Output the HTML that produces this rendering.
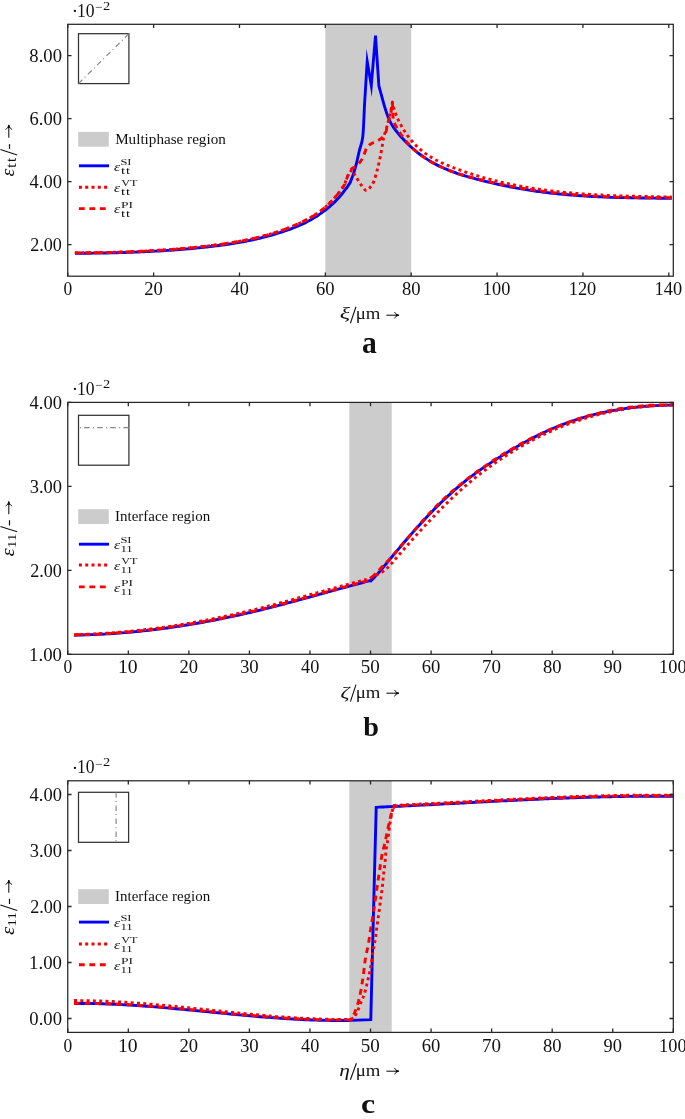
<!DOCTYPE html>
<html><head><meta charset="utf-8"><style>
html,body{margin:0;padding:0;background:#fff;}
svg{display:block;font-family:"Liberation Serif",serif;will-change:transform;}
text{fill:#111;}
</style></head><body>
<svg width="685" height="1119" viewBox="0 0 685 1119">
<rect width="685" height="1119" fill="#fff"/>
<rect x="325.34" y="24.3" width="85.86" height="251.9" fill="#cccccc"/>
<rect x="349.33" y="402.4" width="42.39" height="251.9" fill="#cccccc"/>
<rect x="349.33" y="780.8" width="42.39" height="251.6" fill="#cccccc"/>
<defs><clipPath id="ca"><rect x="67.75" y="24.3" width="605.55" height="251.9"/></clipPath><clipPath id="cb"><rect x="67.75" y="402.4" width="605.55" height="251.9"/></clipPath><clipPath id="cc"><rect x="67.75" y="780.8" width="605.55" height="251.6"/></clipPath></defs>
<path d="M74.9,253.3C75.4,253.29 76.9,253.26 77.9,253.25C78.9,253.24 79.9,253.25 80.9,253.24C81.9,253.24 82.9,253.24 83.9,253.23C84.9,253.23 85.9,253.22 86.9,253.21C87.9,253.21 88.9,253.2 89.9,253.19C90.9,253.18 91.9,253.17 92.9,253.16C93.9,253.15 94.9,253.14 95.9,253.13C96.9,253.11 97.9,253.1 98.9,253.09C99.9,253.07 100.9,253.06 101.9,253.04C102.9,253.03 103.9,253.01 104.9,252.99C105.9,252.97 106.9,252.96 107.9,252.94C108.9,252.92 109.9,252.9 110.9,252.87C111.9,252.85 112.9,252.83 113.9,252.81C114.9,252.78 115.9,252.76 116.9,252.73C117.9,252.71 118.9,252.68 119.9,252.65C120.9,252.62 121.9,252.59 122.9,252.56C123.9,252.53 124.9,252.5 125.9,252.47C126.9,252.44 127.9,252.4 128.9,252.37C129.9,252.34 130.9,252.3 131.9,252.26C132.9,252.23 133.9,252.19 134.9,252.15C135.9,252.11 136.9,252.07 137.9,252.03C138.9,251.99 139.9,251.94 140.9,251.9C141.9,251.85 142.9,251.81 143.9,251.76C144.9,251.72 145.9,251.67 146.9,251.62C147.9,251.57 148.9,251.52 149.9,251.47C150.9,251.42 151.9,251.36 152.9,251.31C153.9,251.26 154.9,251.2 155.9,251.14C156.9,251.09 157.9,251.03 158.9,250.97C159.9,250.91 160.9,250.85 161.9,250.79C162.9,250.72 163.9,250.66 164.9,250.59C165.9,250.53 166.9,250.46 167.9,250.39C168.9,250.33 169.9,250.26 170.9,250.19C171.9,250.11 172.9,250.04 173.9,249.97C174.9,249.89 175.9,249.82 176.9,249.74C177.9,249.67 178.9,249.59 179.9,249.51C180.9,249.43 181.9,249.35 182.9,249.26C183.9,249.18 184.9,249.1 185.9,249.01C186.9,248.92 187.9,248.84 188.9,248.75C189.9,248.66 190.9,248.57 191.9,248.48C192.9,248.38 193.9,248.29 194.9,248.19C195.9,248.1 196.9,248 197.9,247.9C198.9,247.8 199.9,247.7 200.9,247.6C201.9,247.5 202.9,247.4 203.9,247.29C204.9,247.18 205.9,247.08 206.9,246.97C207.9,246.86 208.9,246.74 209.9,246.63C210.9,246.52 211.9,246.4 212.9,246.28C213.9,246.16 214.9,246.04 215.9,245.92C216.9,245.79 217.9,245.67 218.9,245.54C219.9,245.41 220.9,245.28 221.9,245.14C222.9,245.01 223.9,244.87 224.9,244.73C225.9,244.58 226.9,244.44 227.9,244.29C228.9,244.14 229.9,243.99 230.9,243.84C231.9,243.68 232.9,243.53 233.9,243.36C234.9,243.2 235.9,243.04 236.9,242.87C237.9,242.7 238.9,242.52 239.9,242.35C240.9,242.17 241.9,241.99 242.9,241.8C243.9,241.62 244.9,241.43 245.9,241.23C246.9,241.04 247.9,240.84 248.9,240.63C249.9,240.43 250.9,240.22 251.9,240.01C252.9,239.8 253.9,239.58 254.9,239.36C255.9,239.13 256.9,238.9 257.9,238.67C258.9,238.44 259.9,238.2 260.9,237.96C261.9,237.71 262.9,237.46 263.9,237.21C264.9,236.96 265.9,236.7 266.9,236.43C267.9,236.16 268.9,235.89 269.9,235.62C270.9,235.34 271.9,235.06 272.9,234.77C273.9,234.48 274.9,234.18 275.9,233.88C276.9,233.58 277.9,233.27 278.9,232.96C279.9,232.64 280.9,232.32 281.9,232C282.9,231.67 283.9,231.34 284.9,230.99C285.9,230.65 286.9,230.31 287.9,229.95C288.9,229.6 289.9,229.23 290.9,228.86C291.9,228.49 292.9,228.1 293.9,227.71C294.9,227.32 295.9,226.91 296.9,226.49C297.9,226.08 298.9,225.65 299.9,225.21C300.9,224.76 301.9,224.31 302.9,223.83C303.9,223.36 304.9,222.88 305.9,222.37C306.9,221.87 307.9,221.35 308.9,220.81C309.9,220.27 310.9,219.72 311.9,219.14C312.9,218.57 313.9,217.97 314.9,217.36C315.9,216.74 316.9,216.11 317.9,215.45C318.9,214.79 319.9,214.11 320.9,213.41C321.9,212.7 322.9,211.98 323.9,211.22C324.9,210.47 325.9,209.7 326.9,208.89C327.9,208.08 328.9,207.25 329.9,206.38C330.9,205.51 331.9,204.61 332.9,203.67C333.9,202.72 334.9,201.75 335.9,200.72C336.9,199.7 337.9,198.64 338.9,197.52C339.9,196.41 340.9,195.25 341.9,194.04C342.9,192.82 343.9,191.56 344.9,190.24C345.9,188.91 347.03,187.35 347.9,186.09C348.77,184.84 349.73,183.27 350.1,182.7C350.68,181.15 352.52,176.72 353.6,173.4C354.68,170.08 355.62,166.7 356.6,162.8C357.58,158.9 358.47,154.35 359.5,150C360.53,145.65 361.97,144.2 362.8,136.7C363.63,129.2 364.22,110.28 364.5,105L367.2,61.3L371.3,85.5L375.5,35.6L378.9,86C379.4,87.82 380.9,93.29 381.9,96.91C382.9,100.53 383.9,104.42 384.9,107.7C385.9,110.98 386.9,114.01 387.9,116.58C388.9,119.15 389.9,121.22 390.9,123.12C391.9,125.01 392.9,126.5 393.9,127.97C394.9,129.43 395.9,130.63 396.9,131.88C397.9,133.13 398.9,134.31 399.9,135.47C400.9,136.63 401.9,137.75 402.9,138.84C403.9,139.93 404.9,140.99 405.9,142.01C406.9,143.03 407.9,144.02 408.9,144.97C409.9,145.93 410.9,146.85 411.9,147.75C412.9,148.64 413.9,149.51 414.9,150.35C415.9,151.18 416.9,151.99 417.9,152.78C418.9,153.56 419.9,154.31 420.9,155.04C421.9,155.78 422.9,156.48 423.9,157.16C424.9,157.85 425.9,158.51 426.9,159.14C427.9,159.78 428.9,160.4 429.9,160.99C430.9,161.59 431.9,162.17 432.9,162.72C433.9,163.28 434.9,163.82 435.9,164.34C436.9,164.87 437.9,165.37 438.9,165.86C439.9,166.35 440.9,166.83 441.9,167.29C442.9,167.75 443.9,168.2 444.9,168.63C445.9,169.07 446.9,169.49 447.9,169.9C448.9,170.31 449.9,170.71 450.9,171.09C451.9,171.48 452.9,171.85 453.9,172.22C454.9,172.58 455.9,172.94 456.9,173.28C457.9,173.63 458.9,173.96 459.9,174.29C460.9,174.62 461.9,174.94 462.9,175.25C463.9,175.56 464.9,175.86 465.9,176.16C466.9,176.46 467.9,176.75 468.9,177.03C469.9,177.32 470.9,177.6 471.9,177.87C472.9,178.15 473.9,178.42 474.9,178.69C475.9,178.95 476.9,179.22 477.9,179.48C478.9,179.74 479.9,179.99 480.9,180.25C481.9,180.5 482.9,180.75 483.9,181C484.9,181.25 485.9,181.49 486.9,181.74C487.9,181.98 488.9,182.22 489.9,182.45C490.9,182.69 491.9,182.92 492.9,183.15C493.9,183.38 494.9,183.61 495.9,183.84C496.9,184.06 497.9,184.28 498.9,184.5C499.9,184.72 500.9,184.93 501.9,185.15C502.9,185.36 503.9,185.57 504.9,185.77C505.9,185.98 506.9,186.18 507.9,186.38C508.9,186.58 509.9,186.78 510.9,186.97C511.9,187.17 512.9,187.36 513.9,187.54C514.9,187.73 515.9,187.92 516.9,188.1C517.9,188.28 518.9,188.46 519.9,188.63C520.9,188.81 521.9,188.98 522.9,189.15C523.9,189.32 524.9,189.48 525.9,189.64C526.9,189.81 527.9,189.97 528.9,190.12C529.9,190.28 530.9,190.43 531.9,190.58C532.9,190.73 533.9,190.88 534.9,191.02C535.9,191.17 536.9,191.31 537.9,191.45C538.9,191.58 539.9,191.72 540.9,191.85C541.9,191.98 542.9,192.11 543.9,192.24C544.9,192.37 545.9,192.49 546.9,192.61C547.9,192.73 548.9,192.85 549.9,192.97C550.9,193.08 551.9,193.19 552.9,193.3C553.9,193.41 554.9,193.52 555.9,193.63C556.9,193.73 557.9,193.83 558.9,193.94C559.9,194.04 560.9,194.13 561.9,194.23C562.9,194.32 563.9,194.42 564.9,194.51C565.9,194.6 566.9,194.69 567.9,194.77C568.9,194.86 569.9,194.94 570.9,195.02C571.9,195.1 572.9,195.18 573.9,195.26C574.9,195.34 575.9,195.41 576.9,195.49C577.9,195.56 578.9,195.63 579.9,195.7C580.9,195.77 581.9,195.83 582.9,195.9C583.9,195.96 584.9,196.03 585.9,196.09C586.9,196.15 587.9,196.21 588.9,196.27C589.9,196.32 590.9,196.38 591.9,196.43C592.9,196.49 593.9,196.54 594.9,196.59C595.9,196.64 596.9,196.69 597.9,196.74C598.9,196.78 599.9,196.83 600.9,196.87C601.9,196.92 602.9,196.96 603.9,197C604.9,197.04 605.9,197.08 606.9,197.12C607.9,197.16 608.9,197.2 609.9,197.23C610.9,197.27 611.9,197.3 612.9,197.33C613.9,197.37 614.9,197.4 615.9,197.43C616.9,197.46 617.9,197.49 618.9,197.52C619.9,197.55 620.9,197.57 621.9,197.6C622.9,197.62 623.9,197.65 624.9,197.67C625.9,197.7 626.9,197.72 627.9,197.74C628.9,197.76 629.9,197.79 630.9,197.81C631.9,197.83 632.9,197.84 633.9,197.86C634.9,197.88 635.9,197.9 636.9,197.92C637.9,197.93 638.9,197.95 639.9,197.97C640.9,197.98 641.9,198 642.9,198.01C643.9,198.02 644.9,198.04 645.9,198.05C646.9,198.06 647.9,198.08 648.9,198.09C649.9,198.1 650.9,198.11 651.9,198.12C652.9,198.14 653.9,198.15 654.9,198.16C655.9,198.17 656.9,198.18 657.9,198.19C658.9,198.2 659.9,198.21 660.9,198.22C661.9,198.23 662.9,198.23 663.9,198.24C664.9,198.25 665.9,198.26 666.9,198.27C667.9,198.28 669.08,198.29 669.9,198.3C670.72,198.3 671.48,198.3 671.8,198.3" fill="none" stroke="#0000ff" stroke-width="2.9" stroke-linejoin="miter" stroke-miterlimit="10" clip-path="url(#ca)"/>
<path d="M74.9,252.9C75.4,252.89 76.9,252.85 77.9,252.84C78.9,252.83 79.9,252.83 80.9,252.83C81.9,252.82 82.9,252.81 83.9,252.81C84.9,252.8 85.9,252.79 86.9,252.78C87.9,252.78 88.9,252.77 89.9,252.75C90.9,252.74 91.9,252.73 92.9,252.72C93.9,252.71 94.9,252.69 95.9,252.68C96.9,252.66 97.9,252.65 98.9,252.63C99.9,252.61 100.9,252.6 101.9,252.58C102.9,252.56 103.9,252.54 104.9,252.52C105.9,252.5 106.9,252.48 107.9,252.45C108.9,252.43 109.9,252.41 110.9,252.38C111.9,252.36 112.9,252.33 113.9,252.3C114.9,252.28 115.9,252.25 116.9,252.22C117.9,252.19 118.9,252.16 119.9,252.13C120.9,252.09 121.9,252.06 122.9,252.03C123.9,251.99 124.9,251.96 125.9,251.92C126.9,251.89 127.9,251.85 128.9,251.81C129.9,251.77 130.9,251.73 131.9,251.69C132.9,251.65 133.9,251.61 134.9,251.56C135.9,251.52 136.9,251.48 137.9,251.43C138.9,251.38 139.9,251.34 140.9,251.29C141.9,251.24 142.9,251.19 143.9,251.14C144.9,251.09 145.9,251.04 146.9,250.99C147.9,250.93 148.9,250.88 149.9,250.82C150.9,250.77 151.9,250.71 152.9,250.65C153.9,250.59 154.9,250.53 155.9,250.47C156.9,250.41 157.9,250.35 158.9,250.28C159.9,250.22 160.9,250.16 161.9,250.09C162.9,250.02 163.9,249.95 164.9,249.89C165.9,249.82 166.9,249.75 167.9,249.67C168.9,249.6 169.9,249.53 170.9,249.45C171.9,249.38 172.9,249.3 173.9,249.23C174.9,249.15 175.9,249.07 176.9,248.99C177.9,248.91 178.9,248.83 179.9,248.74C180.9,248.66 181.9,248.58 182.9,248.49C183.9,248.4 184.9,248.32 185.9,248.23C186.9,248.14 187.9,248.05 188.9,247.96C189.9,247.86 190.9,247.77 191.9,247.68C192.9,247.58 193.9,247.48 194.9,247.39C195.9,247.29 196.9,247.19 197.9,247.09C198.9,246.98 199.9,246.88 200.9,246.77C201.9,246.67 202.9,246.55 203.9,246.44C204.9,246.33 205.9,246.21 206.9,246.09C207.9,245.98 208.9,245.86 209.9,245.74C210.9,245.61 211.9,245.49 212.9,245.36C213.9,245.24 214.9,245.11 215.9,244.98C216.9,244.85 217.9,244.72 218.9,244.58C219.9,244.44 220.9,244.3 221.9,244.16C222.9,244.02 223.9,243.87 224.9,243.73C225.9,243.58 226.9,243.43 227.9,243.27C228.9,243.12 229.9,242.96 230.9,242.8C231.9,242.64 232.9,242.47 233.9,242.3C234.9,242.13 235.9,241.96 236.9,241.78C237.9,241.61 238.9,241.43 239.9,241.24C240.9,241.06 241.9,240.87 242.9,240.67C243.9,240.48 244.9,240.28 245.9,240.08C246.9,239.88 247.9,239.67 248.9,239.46C249.9,239.25 250.9,239.03 251.9,238.81C252.9,238.59 253.9,238.36 254.9,238.13C255.9,237.9 256.9,237.66 257.9,237.42C258.9,237.18 259.9,236.93 260.9,236.68C261.9,236.43 262.9,236.17 263.9,235.9C264.9,235.64 265.9,235.37 266.9,235.1C267.9,234.82 268.9,234.54 269.9,234.25C270.9,233.96 271.9,233.67 272.9,233.37C273.9,233.07 274.9,232.76 275.9,232.45C276.9,232.14 277.9,231.82 278.9,231.49C279.9,231.16 280.9,230.81 281.9,230.45C282.9,230.1 283.9,229.72 284.9,229.35C285.9,228.97 286.9,228.59 287.9,228.2C288.9,227.81 289.9,227.41 290.9,227.01C291.9,226.6 292.9,226.18 293.9,225.75C294.9,225.32 295.9,224.89 296.9,224.44C297.9,223.98 298.9,223.51 299.9,223.05C300.9,222.58 301.9,222.11 302.9,221.62C303.9,221.13 304.9,220.63 305.9,220.11C306.9,219.59 307.9,219.06 308.9,218.51C309.9,217.96 310.9,217.39 311.9,216.8C312.9,216.22 313.9,215.62 314.9,214.99C315.9,214.37 316.9,213.74 317.9,213.06C318.9,212.38 319.9,211.69 320.9,210.92C321.9,210.14 322.9,209.27 323.9,208.41C324.9,207.55 325.9,206.66 326.9,205.74C327.9,204.81 328.9,203.87 329.9,202.88C330.9,201.88 331.9,200.86 332.9,199.78C333.9,198.7 334.9,197.56 335.9,196.39C336.9,195.21 337.9,194.04 338.9,192.74C339.9,191.44 340.9,190.06 341.9,188.61C342.9,187.16 344.38,184.94 344.9,184.06C345.42,183.17 344.42,184.89 345,183.3C345.58,181.71 347.25,176.73 348.4,174.5C349.55,172.27 351.32,170.67 351.9,169.9C352.48,170.87 354.03,173.43 355.4,175.7C356.77,177.97 358.35,181.07 360.1,183.5C361.85,185.93 364.18,189.72 365.9,190.3C367.62,190.88 369.07,188.53 370.4,187C371.73,185.47 372.73,184.03 373.9,181.1C375.07,178.17 376.33,173.48 377.4,169.4C378.47,165.32 379.43,160.88 380.3,156.6C381.17,152.32 382.02,147.02 382.6,143.7C383.18,140.38 383.12,139.42 383.8,136.7C384.48,133.98 385.73,130.7 386.7,127.4C387.67,124.1 388.65,121.08 389.6,116.9C390.55,112.72 391.93,104.73 392.4,102.3C392.73,103.65 393.57,107.77 394.4,110.4C395.23,113.03 396.4,115.79 397.4,118.07C398.4,120.35 399.4,122.18 400.4,124.06C401.4,125.93 402.4,127.68 403.4,129.34C404.4,130.99 405.4,132.53 406.4,133.98C407.4,135.44 408.4,136.79 409.4,138.07C410.4,139.35 411.4,140.54 412.4,141.67C413.4,142.81 414.4,143.86 415.4,144.87C416.4,145.88 417.4,146.83 418.4,147.74C419.4,148.65 420.4,149.51 421.4,150.34C422.4,151.17 423.4,151.95 424.4,152.71C425.4,153.46 426.4,154.18 427.4,154.86C428.4,155.55 429.4,156.2 430.4,156.83C431.4,157.45 432.4,158.05 433.4,158.62C434.4,159.19 435.4,159.73 436.4,160.26C437.4,160.78 438.4,161.28 439.4,161.76C440.4,162.25 441.4,162.71 442.4,163.16C443.4,163.61 444.4,164.04 445.4,164.46C446.4,164.88 447.4,165.29 448.4,165.69C449.4,166.09 450.4,166.48 451.4,166.87C452.4,167.26 453.4,167.64 454.4,168.01C455.4,168.39 456.4,168.76 457.4,169.13C458.4,169.49 459.4,169.85 460.4,170.21C461.4,170.57 462.4,170.92 463.4,171.26C464.4,171.61 465.4,171.95 466.4,172.29C467.4,172.63 468.4,172.96 469.4,173.28C470.4,173.61 471.4,173.93 472.4,174.25C473.4,174.57 474.4,174.88 475.4,175.19C476.4,175.5 477.4,175.8 478.4,176.1C479.4,176.4 480.4,176.69 481.4,176.98C482.4,177.27 483.4,177.56 484.4,177.84C485.4,178.12 486.4,178.4 487.4,178.67C488.4,178.94 489.4,179.21 490.4,179.47C491.4,179.74 492.4,180 493.4,180.25C494.4,180.51 495.4,180.76 496.4,181.01C497.4,181.25 498.4,181.5 499.4,181.74C500.4,181.97 501.4,182.21 502.4,182.44C503.4,182.67 504.4,182.9 505.4,183.12C506.4,183.34 507.4,183.56 508.4,183.78C509.4,183.99 510.4,184.21 511.4,184.41C512.4,184.62 513.4,184.83 514.4,185.03C515.4,185.23 516.4,185.42 517.4,185.62C518.4,185.81 519.4,186 520.4,186.19C521.4,186.37 522.4,186.56 523.4,186.74C524.4,186.91 525.4,187.09 526.4,187.26C527.4,187.44 528.4,187.6 529.4,187.77C530.4,187.94 531.4,188.1 532.4,188.26C533.4,188.42 534.4,188.57 535.4,188.73C536.4,188.88 537.4,189.03 538.4,189.18C539.4,189.32 540.4,189.47 541.4,189.61C542.4,189.75 543.4,189.89 544.4,190.02C545.4,190.15 546.4,190.29 547.4,190.42C548.4,190.54 549.4,190.67 550.4,190.79C551.4,190.92 552.4,191.04 553.4,191.16C554.4,191.27 555.4,191.39 556.4,191.5C557.4,191.61 558.4,191.72 559.4,191.83C560.4,191.94 561.4,192.04 562.4,192.15C563.4,192.25 564.4,192.35 565.4,192.45C566.4,192.54 567.4,192.64 568.4,192.73C569.4,192.82 570.4,192.91 571.4,193C572.4,193.09 573.4,193.18 574.4,193.26C575.4,193.34 576.4,193.43 577.4,193.51C578.4,193.59 579.4,193.66 580.4,193.74C581.4,193.81 582.4,193.89 583.4,193.96C584.4,194.03 585.4,194.1 586.4,194.17C587.4,194.23 588.4,194.3 589.4,194.36C590.4,194.43 591.4,194.49 592.4,194.55C593.4,194.61 594.4,194.67 595.4,194.72C596.4,194.78 597.4,194.84 598.4,194.89C599.4,194.94 600.4,195 601.4,195.05C602.4,195.1 603.4,195.15 604.4,195.19C605.4,195.24 606.4,195.29 607.4,195.33C608.4,195.38 609.4,195.42 610.4,195.46C611.4,195.5 612.4,195.54 613.4,195.58C614.4,195.62 615.4,195.66 616.4,195.7C617.4,195.74 618.4,195.77 619.4,195.81C620.4,195.84 621.4,195.88 622.4,195.91C623.4,195.94 624.4,195.97 625.4,196C626.4,196.04 627.4,196.07 628.4,196.1C629.4,196.12 630.4,196.15 631.4,196.18C632.4,196.21 633.4,196.23 634.4,196.26C635.4,196.29 636.4,196.31 637.4,196.34C638.4,196.36 639.4,196.39 640.4,196.41C641.4,196.43 642.4,196.46 643.4,196.48C644.4,196.5 645.4,196.52 646.4,196.54C647.4,196.57 648.4,196.59 649.4,196.61C650.4,196.63 651.4,196.65 652.4,196.67C653.4,196.69 654.4,196.71 655.4,196.73C656.4,196.75 657.4,196.77 658.4,196.79C659.4,196.81 660.4,196.83 661.4,196.85C662.4,196.87 663.4,196.89 664.4,196.91C665.4,196.92 666.4,196.94 667.4,196.96C668.4,196.98 669.67,197.03 670.4,197.02C671.13,197.01 671.57,196.92 671.8,196.9" fill="none" stroke="#ff0000" stroke-width="2.9" stroke-dasharray="3 3.3" stroke-linejoin="round" clip-path="url(#ca)"/>
<path d="M74.9,252.9C75.4,252.89 76.9,252.85 77.9,252.84C78.9,252.83 79.9,252.83 80.9,252.83C81.9,252.82 82.9,252.81 83.9,252.81C84.9,252.8 85.9,252.79 86.9,252.78C87.9,252.78 88.9,252.77 89.9,252.75C90.9,252.74 91.9,252.73 92.9,252.72C93.9,252.71 94.9,252.69 95.9,252.68C96.9,252.66 97.9,252.65 98.9,252.63C99.9,252.61 100.9,252.6 101.9,252.58C102.9,252.56 103.9,252.54 104.9,252.52C105.9,252.5 106.9,252.48 107.9,252.45C108.9,252.43 109.9,252.41 110.9,252.38C111.9,252.36 112.9,252.33 113.9,252.3C114.9,252.28 115.9,252.25 116.9,252.22C117.9,252.19 118.9,252.16 119.9,252.13C120.9,252.09 121.9,252.06 122.9,252.03C123.9,251.99 124.9,251.96 125.9,251.92C126.9,251.89 127.9,251.85 128.9,251.81C129.9,251.77 130.9,251.73 131.9,251.69C132.9,251.65 133.9,251.61 134.9,251.56C135.9,251.52 136.9,251.48 137.9,251.43C138.9,251.38 139.9,251.34 140.9,251.29C141.9,251.24 142.9,251.19 143.9,251.14C144.9,251.09 145.9,251.04 146.9,250.99C147.9,250.93 148.9,250.88 149.9,250.82C150.9,250.77 151.9,250.71 152.9,250.65C153.9,250.59 154.9,250.53 155.9,250.47C156.9,250.41 157.9,250.35 158.9,250.28C159.9,250.22 160.9,250.16 161.9,250.09C162.9,250.02 163.9,249.95 164.9,249.89C165.9,249.82 166.9,249.75 167.9,249.67C168.9,249.6 169.9,249.53 170.9,249.45C171.9,249.38 172.9,249.3 173.9,249.23C174.9,249.15 175.9,249.07 176.9,248.99C177.9,248.91 178.9,248.83 179.9,248.74C180.9,248.66 181.9,248.58 182.9,248.49C183.9,248.4 184.9,248.32 185.9,248.23C186.9,248.14 187.9,248.05 188.9,247.96C189.9,247.86 190.9,247.77 191.9,247.68C192.9,247.58 193.9,247.48 194.9,247.39C195.9,247.29 196.9,247.19 197.9,247.09C198.9,246.98 199.9,246.88 200.9,246.77C201.9,246.67 202.9,246.55 203.9,246.44C204.9,246.33 205.9,246.21 206.9,246.09C207.9,245.98 208.9,245.86 209.9,245.74C210.9,245.61 211.9,245.49 212.9,245.36C213.9,245.24 214.9,245.11 215.9,244.98C216.9,244.85 217.9,244.72 218.9,244.58C219.9,244.44 220.9,244.3 221.9,244.16C222.9,244.02 223.9,243.87 224.9,243.73C225.9,243.58 226.9,243.43 227.9,243.27C228.9,243.12 229.9,242.96 230.9,242.8C231.9,242.64 232.9,242.47 233.9,242.3C234.9,242.13 235.9,241.96 236.9,241.78C237.9,241.61 238.9,241.43 239.9,241.24C240.9,241.06 241.9,240.87 242.9,240.67C243.9,240.48 244.9,240.28 245.9,240.08C246.9,239.88 247.9,239.67 248.9,239.46C249.9,239.25 250.9,239.03 251.9,238.81C252.9,238.59 253.9,238.36 254.9,238.13C255.9,237.9 256.9,237.66 257.9,237.42C258.9,237.18 259.9,236.93 260.9,236.68C261.9,236.43 262.9,236.17 263.9,235.9C264.9,235.64 265.9,235.37 266.9,235.1C267.9,234.82 268.9,234.54 269.9,234.25C270.9,233.96 271.9,233.67 272.9,233.37C273.9,233.07 274.9,232.76 275.9,232.45C276.9,232.14 277.9,231.82 278.9,231.49C279.9,231.16 280.9,230.81 281.9,230.45C282.9,230.1 283.9,229.72 284.9,229.35C285.9,228.97 286.9,228.59 287.9,228.2C288.9,227.81 289.9,227.41 290.9,227.01C291.9,226.6 292.9,226.18 293.9,225.75C294.9,225.32 295.9,224.89 296.9,224.44C297.9,223.98 298.9,223.51 299.9,223.05C300.9,222.58 301.9,222.11 302.9,221.62C303.9,221.13 304.9,220.63 305.9,220.11C306.9,219.59 307.9,219.06 308.9,218.51C309.9,217.96 310.9,217.39 311.9,216.8C312.9,216.22 313.9,215.62 314.9,214.99C315.9,214.37 316.9,213.74 317.9,213.06C318.9,212.38 319.9,211.69 320.9,210.92C321.9,210.14 322.9,209.27 323.9,208.41C324.9,207.55 325.9,206.66 326.9,205.74C327.9,204.81 328.9,203.87 329.9,202.88C330.9,201.88 331.9,200.86 332.9,199.78C333.9,198.7 334.9,197.56 335.9,196.39C336.9,195.21 337.9,194.04 338.9,192.74C339.9,191.44 340.9,190.06 341.9,188.61C342.9,187.16 344.38,184.94 344.9,184.06C345.42,183.17 344.42,184.89 345,183.3C345.58,181.71 347.25,176.97 348.4,174.5C349.55,172.03 350.53,169.93 351.9,168.5C353.27,167.07 354.88,167.5 356.6,165.9C358.32,164.3 360.58,161.82 362.2,158.9C363.82,155.98 365.62,150.15 366.3,148.4C366.83,147.8 368.33,145.77 369.5,144.8C370.67,143.83 371.88,143.32 373.3,142.6C374.72,141.88 376.45,141.38 378,140.5C379.55,139.62 381.28,138.72 382.6,137.3C383.92,135.88 385.2,133.55 385.9,132C386.6,130.45 386.28,130.13 386.8,128C387.32,125.87 388.33,121.68 389,119.2C389.67,116.72 390.23,115.92 390.8,113.1C391.37,110.28 392.13,104.1 392.4,102.3L393.2,120.4C393.7,121.44 395.2,124.78 396.2,126.64C397.2,128.51 398.2,130.01 399.2,131.57C400.2,133.14 401.2,134.61 402.2,136.02C403.2,137.43 404.2,138.76 405.2,140.03C406.2,141.29 407.2,142.49 408.2,143.63C409.2,144.76 410.2,145.84 411.2,146.86C412.2,147.88 413.2,148.84 414.2,149.76C415.2,150.68 416.2,151.55 417.2,152.38C418.2,153.21 419.2,153.99 420.2,154.74C421.2,155.49 422.2,156.2 423.2,156.89C424.2,157.57 425.2,158.23 426.2,158.86C427.2,159.5 428.2,160.1 429.2,160.7C430.2,161.29 431.2,161.86 432.2,162.42C433.2,162.98 434.2,163.52 435.2,164.04C436.2,164.57 437.2,165.07 438.2,165.56C439.2,166.06 440.2,166.53 441.2,166.99C442.2,167.46 443.2,167.9 444.2,168.34C445.2,168.77 446.2,169.19 447.2,169.6C448.2,170.01 449.2,170.4 450.2,170.78C451.2,171.17 452.2,171.54 453.2,171.9C454.2,172.26 455.2,172.61 456.2,172.95C457.2,173.29 458.2,173.62 459.2,173.95C460.2,174.27 461.2,174.58 462.2,174.89C463.2,175.19 464.2,175.49 465.2,175.78C466.2,176.07 467.2,176.35 468.2,176.63C469.2,176.91 470.2,177.18 471.2,177.45C472.2,177.71 473.2,177.97 474.2,178.23C475.2,178.49 476.2,178.74 477.2,178.99C478.2,179.24 479.2,179.49 480.2,179.73C481.2,179.98 482.2,180.22 483.2,180.45C484.2,180.69 485.2,180.93 486.2,181.16C487.2,181.39 488.2,181.62 489.2,181.85C490.2,182.07 491.2,182.3 492.2,182.52C493.2,182.74 494.2,182.95 495.2,183.17C496.2,183.38 497.2,183.59 498.2,183.8C499.2,184.01 500.2,184.22 501.2,184.42C502.2,184.62 503.2,184.82 504.2,185.02C505.2,185.22 506.2,185.41 507.2,185.6C508.2,185.8 509.2,185.99 510.2,186.17C511.2,186.36 512.2,186.54 513.2,186.72C514.2,186.9 515.2,187.08 516.2,187.26C517.2,187.43 518.2,187.61 519.2,187.78C520.2,187.95 521.2,188.12 522.2,188.28C523.2,188.45 524.2,188.61 525.2,188.77C526.2,188.93 527.2,189.09 528.2,189.24C529.2,189.4 530.2,189.55 531.2,189.7C532.2,189.85 533.2,190 534.2,190.14C535.2,190.29 536.2,190.43 537.2,190.57C538.2,190.71 539.2,190.85 540.2,190.98C541.2,191.12 542.2,191.25 543.2,191.38C544.2,191.51 545.2,191.64 546.2,191.77C547.2,191.89 548.2,192.02 549.2,192.14C550.2,192.26 551.2,192.38 552.2,192.49C553.2,192.61 554.2,192.72 555.2,192.84C556.2,192.95 557.2,193.06 558.2,193.17C559.2,193.27 560.2,193.38 561.2,193.48C562.2,193.58 563.2,193.69 564.2,193.78C565.2,193.88 566.2,193.98 567.2,194.07C568.2,194.17 569.2,194.26 570.2,194.35C571.2,194.44 572.2,194.53 573.2,194.62C574.2,194.7 575.2,194.79 576.2,194.87C577.2,194.95 578.2,195.03 579.2,195.11C580.2,195.19 581.2,195.26 582.2,195.34C583.2,195.41 584.2,195.49 585.2,195.56C586.2,195.63 587.2,195.69 588.2,195.76C589.2,195.83 590.2,195.89 591.2,195.95C592.2,196.02 593.2,196.08 594.2,196.14C595.2,196.2 596.2,196.25 597.2,196.31C598.2,196.36 599.2,196.42 600.2,196.47C601.2,196.52 602.2,196.57 603.2,196.62C604.2,196.67 605.2,196.72 606.2,196.76C607.2,196.81 608.2,196.85 609.2,196.89C610.2,196.93 611.2,196.97 612.2,197.01C613.2,197.05 614.2,197.08 615.2,197.12C616.2,197.15 617.2,197.19 618.2,197.22C619.2,197.25 620.2,197.28 621.2,197.31C622.2,197.34 623.2,197.36 624.2,197.39C625.2,197.42 626.2,197.44 627.2,197.46C628.2,197.48 629.2,197.51 630.2,197.53C631.2,197.55 632.2,197.56 633.2,197.58C634.2,197.6 635.2,197.61 636.2,197.63C637.2,197.64 638.2,197.65 639.2,197.66C640.2,197.67 641.2,197.68 642.2,197.69C643.2,197.7 644.2,197.71 645.2,197.71C646.2,197.72 647.2,197.72 648.2,197.73C649.2,197.73 650.2,197.73 651.2,197.73C652.2,197.73 653.2,197.73 654.2,197.73C655.2,197.73 656.2,197.73 657.2,197.72C658.2,197.72 659.2,197.71 660.2,197.71C661.2,197.7 662.2,197.69 663.2,197.68C664.2,197.68 665.2,197.67 666.2,197.66C667.2,197.64 668.27,197.6 669.2,197.62C670.13,197.64 671.37,197.77 671.8,197.8" fill="none" stroke="#ff0000" stroke-width="2.9" stroke-dasharray="5.8 4.7" stroke-linejoin="round" clip-path="url(#ca)"/>
<path d="M74.1,635.4C74.6,635.34 76.1,635.13 77.1,635.06C78.1,635 79.1,635.03 80.1,635.01C81.1,634.98 82.1,634.96 83.1,634.93C84.1,634.91 85.1,634.88 86.1,634.85C87.1,634.82 88.1,634.79 89.1,634.75C90.1,634.72 91.1,634.68 92.1,634.64C93.1,634.6 94.1,634.56 95.1,634.52C96.1,634.48 97.1,634.43 98.1,634.38C99.1,634.34 100.1,634.29 101.1,634.24C102.1,634.18 103.1,634.13 104.1,634.08C105.1,634.02 106.1,633.96 107.1,633.9C108.1,633.84 109.1,633.78 110.1,633.72C111.1,633.66 112.1,633.59 113.1,633.52C114.1,633.45 115.1,633.38 116.1,633.31C117.1,633.24 118.1,633.17 119.1,633.09C120.1,633.02 121.1,632.94 122.1,632.86C123.1,632.78 124.1,632.7 125.1,632.61C126.1,632.53 127.1,632.44 128.1,632.36C129.1,632.27 130.1,632.18 131.1,632.09C132.1,632 133.1,631.9 134.1,631.81C135.1,631.71 136.1,631.61 137.1,631.51C138.1,631.41 139.1,631.31 140.1,631.21C141.1,631.11 142.1,631 143.1,630.89C144.1,630.79 145.1,630.68 146.1,630.57C147.1,630.45 148.1,630.34 149.1,630.23C150.1,630.11 151.1,629.99 152.1,629.88C153.1,629.76 154.1,629.64 155.1,629.51C156.1,629.39 157.1,629.27 158.1,629.14C159.1,629.01 160.1,628.89 161.1,628.76C162.1,628.62 163.1,628.49 164.1,628.36C165.1,628.23 166.1,628.09 167.1,627.95C168.1,627.81 169.1,627.67 170.1,627.53C171.1,627.39 172.1,627.25 173.1,627.1C174.1,626.96 175.1,626.81 176.1,626.66C177.1,626.51 178.1,626.36 179.1,626.21C180.1,626.06 181.1,625.91 182.1,625.75C183.1,625.59 184.1,625.44 185.1,625.28C186.1,625.12 187.1,624.96 188.1,624.79C189.1,624.63 190.1,624.46 191.1,624.3C192.1,624.13 193.1,623.96 194.1,623.79C195.1,623.62 196.1,623.45 197.1,623.28C198.1,623.1 199.1,622.93 200.1,622.75C201.1,622.57 202.1,622.39 203.1,622.21C204.1,622.03 205.1,621.85 206.1,621.66C207.1,621.48 208.1,621.29 209.1,621.11C210.1,620.92 211.1,620.73 212.1,620.54C213.1,620.35 214.1,620.15 215.1,619.96C216.1,619.77 217.1,619.57 218.1,619.37C219.1,619.17 220.1,618.97 221.1,618.77C222.1,618.57 223.1,618.37 224.1,618.16C225.1,617.96 226.1,617.75 227.1,617.54C228.1,617.34 229.1,617.13 230.1,616.91C231.1,616.7 232.1,616.49 233.1,616.28C234.1,616.06 235.1,615.84 236.1,615.63C237.1,615.41 238.1,615.19 239.1,614.97C240.1,614.75 241.1,614.52 242.1,614.3C243.1,614.08 244.1,613.85 245.1,613.62C246.1,613.39 247.1,613.16 248.1,612.93C249.1,612.7 250.1,612.47 251.1,612.24C252.1,612 253.1,611.77 254.1,611.53C255.1,611.29 256.1,611.05 257.1,610.81C258.1,610.57 259.1,610.33 260.1,610.09C261.1,609.84 262.1,609.6 263.1,609.35C264.1,609.11 265.1,608.86 266.1,608.61C267.1,608.36 268.1,608.11 269.1,607.85C270.1,607.6 271.1,607.35 272.1,607.09C273.1,606.84 274.1,606.58 275.1,606.33C276.1,606.07 277.1,605.81 278.1,605.55C279.1,605.29 280.1,605.03 281.1,604.77C282.1,604.5 283.1,604.24 284.1,603.98C285.1,603.71 286.1,603.45 287.1,603.18C288.1,602.92 289.1,602.65 290.1,602.38C291.1,602.12 292.1,601.85 293.1,601.58C294.1,601.31 295.1,601.04 296.1,600.77C297.1,600.5 298.1,600.23 299.1,599.95C300.1,599.68 301.1,599.41 302.1,599.14C303.1,598.86 304.1,598.59 305.1,598.32C306.1,598.04 307.1,597.77 308.1,597.49C309.1,597.22 310.1,596.94 311.1,596.67C312.1,596.39 313.1,596.12 314.1,595.84C315.1,595.57 316.1,595.29 317.1,595.01C318.1,594.74 319.1,594.46 320.1,594.18C321.1,593.91 322.1,593.63 323.1,593.36C324.1,593.08 325.1,592.8 326.1,592.53C327.1,592.25 328.1,591.97 329.1,591.7C330.1,591.42 331.1,591.14 332.1,590.87C333.1,590.59 334.1,590.32 335.1,590.04C336.1,589.77 337.1,589.49 338.1,589.22C339.1,588.94 340.1,588.67 341.1,588.4C342.1,588.12 343.1,587.85 344.1,587.58C345.1,587.3 346.1,587.03 347.1,586.76C348.1,586.49 349.1,586.22 350.1,585.95C351.1,585.68 352.1,585.41 353.1,585.14C354.1,584.87 355.1,584.6 356.1,584.34C357.1,584.07 358.1,583.8 359.1,583.54C360.1,583.27 361.1,583.01 362.1,582.75C363.1,582.48 364.1,582.22 365.1,581.96C366.1,581.7 367.1,581.44 368.1,581.18C369.1,580.92 370.58,580.5 371.1,580.41C371.62,580.31 371.18,580.57 371.2,580.6C371.67,580.13 373.03,578.79 374,577.8C374.97,576.81 376,575.76 377,574.64C378,573.53 379,572.29 380,571.11C381,569.92 382,568.73 383,567.54C384,566.36 385,565.16 386,563.97C387,562.77 388,561.58 389,560.38C390,559.19 391,557.99 392,556.8C393,555.6 394,554.4 395,553.21C396,552.02 397,550.83 398,549.64C399,548.45 400,547.26 401,546.08C402,544.9 403,543.72 404,542.55C405,541.38 406,540.21 407,539.05C408,537.88 409,536.73 410,535.58C411,534.43 412,533.29 413,532.15C414,531.02 415,529.9 416,528.78C417,527.66 418,526.55 419,525.45C420,524.35 421,523.26 422,522.17C423,521.09 424,520.01 425,518.94C426,517.88 427,516.82 428,515.77C429,514.72 430,513.68 431,512.64C432,511.61 433,510.59 434,509.58C435,508.56 436,507.56 437,506.56C438,505.57 439,504.58 440,503.61C441,502.63 442,501.66 443,500.71C444,499.75 445,498.8 446,497.87C447,496.93 448,496 449,495.09C450,494.17 451,493.26 452,492.37C453,491.47 454,490.58 455,489.71C456,488.83 457,487.97 458,487.11C459,486.26 460,485.42 461,484.58C462,483.75 463,482.93 464,482.12C465,481.31 466,480.51 467,479.72C468,478.93 469,478.16 470,477.39C471,476.63 472,475.87 473,475.13C474,474.38 475,473.65 476,472.93C477,472.2 478,471.49 479,470.78C480,470.07 481,469.37 482,468.68C483,467.99 484,467.31 485,466.63C486,465.96 487,465.29 488,464.62C489,463.96 490,463.3 491,462.65C492,461.99 493,461.35 494,460.7C495,460.06 496,459.42 497,458.78C498,458.14 499,457.51 500,456.88C501,456.25 502,455.63 503,455.01C504,454.39 505,453.77 506,453.16C507,452.55 508,451.95 509,451.34C510,450.74 511,450.14 512,449.55C513,448.96 514,448.37 515,447.79C516,447.21 517,446.63 518,446.05C519,445.48 520,444.91 521,444.35C522,443.79 523,443.23 524,442.68C525,442.13 526,441.59 527,441.05C528,440.51 529,439.97 530,439.44C531,438.91 532,438.39 533,437.87C534,437.36 535,436.85 536,436.34C537,435.84 538,435.34 539,434.85C540,434.36 541,433.87 542,433.39C543,432.92 544,432.44 545,431.98C546,431.51 547,431.06 548,430.6C549,430.15 550,429.71 551,429.27C552,428.83 553,428.4 554,427.98C555,427.56 556,427.14 557,426.73C558,426.32 559,425.92 560,425.53C561,425.13 562,424.74 563,424.36C564,423.98 565,423.61 566,423.24C567,422.87 568,422.51 569,422.15C570,421.8 571,421.45 572,421.11C573,420.77 574,420.43 575,420.11C576,419.78 577,419.46 578,419.14C579,418.82 580,418.51 581,418.21C582,417.91 583,417.61 584,417.32C585,417.03 586,416.75 587,416.47C588,416.19 589,415.92 590,415.65C591,415.38 592,415.12 593,414.87C594,414.61 595,414.36 596,414.12C597,413.88 598,413.64 599,413.41C600,413.17 601,412.95 602,412.73C603,412.51 604,412.29 605,412.08C606,411.87 607,411.67 608,411.47C609,411.27 610,411.07 611,410.88C612,410.7 613,410.51 614,410.33C615,410.16 616,409.98 617,409.81C618,409.65 619,409.48 620,409.32C621,409.17 622,409.01 623,408.86C624,408.72 625,408.57 626,408.43C627,408.29 628,408.16 629,408.03C630,407.9 631,407.78 632,407.66C633,407.54 634,407.42 635,407.31C636,407.2 637,407.09 638,406.99C639,406.88 640,406.79 641,406.69C642,406.6 643,406.51 644,406.42C645,406.34 646,406.26 647,406.18C648,406.1 649,406.03 650,405.96C651,405.89 652,405.82 653,405.76C654,405.7 655,405.64 656,405.59C657,405.53 658,405.48 659,405.43C660,405.39 661,405.34 662,405.3C663,405.27 664,405.23 665,405.2C666,405.16 667,405.13 668,405.11C669,405.08 670.12,405.08 671,405.04C671.88,405.01 672.92,404.92 673.3,404.9" fill="none" stroke="#0000ff" stroke-width="2.9" stroke-linejoin="miter" stroke-miterlimit="10" clip-path="url(#cb)"/>
<path d="M74.1,634.9C74.6,634.84 76.1,634.61 77.1,634.54C78.1,634.47 79.1,634.49 80.1,634.46C81.1,634.43 82.1,634.4 83.1,634.36C84.1,634.33 85.1,634.3 86.1,634.26C87.1,634.22 88.1,634.18 89.1,634.14C90.1,634.1 91.1,634.05 92.1,634.01C93.1,633.96 94.1,633.91 95.1,633.86C96.1,633.81 97.1,633.76 98.1,633.7C99.1,633.65 100.1,633.59 101.1,633.53C102.1,633.47 103.1,633.41 104.1,633.35C105.1,633.29 106.1,633.22 107.1,633.15C108.1,633.09 109.1,633.02 110.1,632.95C111.1,632.88 112.1,632.8 113.1,632.73C114.1,632.65 115.1,632.58 116.1,632.5C117.1,632.42 118.1,632.34 119.1,632.25C120.1,632.17 121.1,632.08 122.1,632C123.1,631.91 124.1,631.82 125.1,631.73C126.1,631.64 127.1,631.54 128.1,631.45C129.1,631.35 130.1,631.26 131.1,631.16C132.1,631.06 133.1,630.96 134.1,630.85C135.1,630.75 136.1,630.65 137.1,630.54C138.1,630.43 139.1,630.32 140.1,630.21C141.1,630.1 142.1,629.99 143.1,629.87C144.1,629.76 145.1,629.64 146.1,629.52C147.1,629.4 148.1,629.28 149.1,629.16C150.1,629.04 151.1,628.91 152.1,628.79C153.1,628.66 154.1,628.53 155.1,628.4C156.1,628.27 157.1,628.14 158.1,628.01C159.1,627.87 160.1,627.74 161.1,627.6C162.1,627.46 163.1,627.32 164.1,627.18C165.1,627.04 166.1,626.9 167.1,626.75C168.1,626.61 169.1,626.46 170.1,626.31C171.1,626.16 172.1,626.01 173.1,625.86C174.1,625.71 175.1,625.55 176.1,625.4C177.1,625.24 178.1,625.08 179.1,624.92C180.1,624.76 181.1,624.6 182.1,624.44C183.1,624.27 184.1,624.11 185.1,623.94C186.1,623.77 187.1,623.6 188.1,623.43C189.1,623.26 190.1,623.09 191.1,622.92C192.1,622.74 193.1,622.57 194.1,622.39C195.1,622.21 196.1,622.03 197.1,621.85C198.1,621.67 199.1,621.49 200.1,621.3C201.1,621.12 202.1,620.93 203.1,620.74C204.1,620.55 205.1,620.36 206.1,620.17C207.1,619.98 208.1,619.79 209.1,619.59C210.1,619.4 211.1,619.2 212.1,619C213.1,618.8 214.1,618.6 215.1,618.4C216.1,618.2 217.1,617.99 218.1,617.79C219.1,617.58 220.1,617.37 221.1,617.17C222.1,616.96 223.1,616.75 224.1,616.53C225.1,616.32 226.1,616.11 227.1,615.89C228.1,615.68 229.1,615.46 230.1,615.24C231.1,615.02 232.1,614.8 233.1,614.58C234.1,614.36 235.1,614.13 236.1,613.91C237.1,613.68 238.1,613.45 239.1,613.23C240.1,613 241.1,612.77 242.1,612.54C243.1,612.3 244.1,612.07 245.1,611.83C246.1,611.6 247.1,611.36 248.1,611.12C249.1,610.89 250.1,610.65 251.1,610.4C252.1,610.16 253.1,609.92 254.1,609.67C255.1,609.43 256.1,609.18 257.1,608.94C258.1,608.69 259.1,608.44 260.1,608.19C261.1,607.94 262.1,607.68 263.1,607.43C264.1,607.18 265.1,606.92 266.1,606.66C267.1,606.41 268.1,606.15 269.1,605.89C270.1,605.63 271.1,605.37 272.1,605.1C273.1,604.84 274.1,604.58 275.1,604.31C276.1,604.05 277.1,603.78 278.1,603.51C279.1,603.25 280.1,602.98 281.1,602.71C282.1,602.44 283.1,602.17 284.1,601.9C285.1,601.63 286.1,601.35 287.1,601.08C288.1,600.81 289.1,600.53 290.1,600.26C291.1,599.98 292.1,599.71 293.1,599.43C294.1,599.15 295.1,598.88 296.1,598.6C297.1,598.32 298.1,598.04 299.1,597.76C300.1,597.48 301.1,597.21 302.1,596.94C303.1,596.66 304.1,596.39 305.1,596.12C306.1,595.84 307.1,595.57 308.1,595.29C309.1,595.02 310.1,594.74 311.1,594.47C312.1,594.19 313.1,593.92 314.1,593.64C315.1,593.37 316.1,593.09 317.1,592.81C318.1,592.54 319.1,592.26 320.1,591.98C321.1,591.71 322.1,591.43 323.1,591.16C324.1,590.88 325.1,590.6 326.1,590.33C327.1,590.05 328.1,589.77 329.1,589.5C330.1,589.22 331.1,588.94 332.1,588.67C333.1,588.39 334.1,588.12 335.1,587.84C336.1,587.57 337.1,587.29 338.1,587.02C339.1,586.74 340.1,586.47 341.1,586.2C342.1,585.92 343.1,585.65 344.1,585.38C345.1,585.1 346.1,584.83 347.1,584.56C348.1,584.29 349.1,584.02 350.1,583.75C351.1,583.48 352.1,583.21 353.1,582.94C354.1,582.67 355.1,582.4 356.1,582.14C357.1,581.87 358.1,581.6 359.1,581.34C360.1,581.07 361.1,580.81 362.1,580.55C363.1,580.28 364.17,579.97 365.1,579.76C366.03,579.55 366.38,579.83 367.7,579.3C369.02,578.77 370.88,577.63 373,576.6C375.12,575.57 378.3,574.28 380.4,573.1C382.5,571.92 384.23,570.54 385.6,569.5C386.97,568.46 387.6,567.87 388.6,566.85C389.6,565.83 390.6,564.53 391.6,563.37C392.6,562.21 393.6,561.06 394.6,559.9C395.6,558.74 396.6,557.59 397.6,556.44C398.6,555.28 399.6,554.13 400.6,552.98C401.6,551.83 402.6,550.69 403.6,549.54C404.6,548.4 405.6,547.26 406.6,546.12C407.6,544.98 408.6,543.85 409.6,542.72C410.6,541.59 411.6,540.47 412.6,539.34C413.6,538.22 414.6,537.11 415.6,535.99C416.6,534.88 417.6,533.78 418.6,532.67C419.6,531.57 420.6,530.47 421.6,529.38C422.6,528.29 423.6,527.2 424.6,526.12C425.6,525.04 426.6,523.97 427.6,522.9C428.6,521.83 429.6,520.77 430.6,519.71C431.6,518.65 432.6,517.6 433.6,516.56C434.6,515.52 435.6,514.48 436.6,513.45C437.6,512.42 438.6,511.39 439.6,510.38C440.6,509.36 441.6,508.35 442.6,507.35C443.6,506.35 444.6,505.36 445.6,504.37C446.6,503.38 447.6,502.41 448.6,501.44C449.6,500.47 450.6,499.5 451.6,498.55C452.6,497.6 453.6,496.65 454.6,495.72C455.6,494.78 456.6,493.85 457.6,492.94C458.6,492.02 459.6,491.11 460.6,490.21C461.6,489.31 462.6,488.42 463.6,487.54C464.6,486.66 465.6,485.79 466.6,484.93C467.6,484.07 468.6,483.21 469.6,482.37C470.6,481.53 471.6,480.7 472.6,479.88C473.6,479.06 474.6,478.25 475.6,477.45C476.6,476.65 477.6,475.86 478.6,475.08C479.6,474.3 480.6,473.53 481.6,472.76C482.6,472 483.6,471.24 484.6,470.5C485.6,469.75 486.6,469.01 487.6,468.28C488.6,467.55 489.6,466.83 490.6,466.12C491.6,465.4 492.6,464.7 493.6,464C494.6,463.3 495.6,462.61 496.6,461.92C497.6,461.24 498.6,460.56 499.6,459.89C500.6,459.22 501.6,458.55 502.6,457.89C503.6,457.24 504.6,456.59 505.6,455.94C506.6,455.29 507.6,454.66 508.6,454.02C509.6,453.39 510.6,452.77 511.6,452.15C512.6,451.53 513.6,450.92 514.6,450.31C515.6,449.7 516.6,449.1 517.6,448.51C518.6,447.92 519.6,447.33 520.6,446.75C521.6,446.17 522.6,445.6 523.6,445.03C524.6,444.47 525.6,443.91 526.6,443.35C527.6,442.8 528.6,442.25 529.6,441.71C530.6,441.17 531.6,440.63 532.6,440.11C533.6,439.58 534.6,439.06 535.6,438.54C536.6,438.03 537.6,437.52 538.6,437.02C539.6,436.52 540.6,436.02 541.6,435.54C542.6,435.05 543.6,434.57 544.6,434.09C545.6,433.61 546.6,433.15 547.6,432.68C548.6,432.22 549.6,431.77 550.6,431.32C551.6,430.87 552.6,430.42 553.6,429.99C554.6,429.55 555.6,429.12 556.6,428.7C557.6,428.28 558.6,427.86 559.6,427.45C560.6,427.04 561.6,426.64 562.6,426.24C563.6,425.84 564.6,425.45 565.6,425.07C566.6,424.68 567.6,424.3 568.6,423.93C569.6,423.56 570.6,423.19 571.6,422.83C572.6,422.47 573.6,422.12 574.6,421.77C575.6,421.43 576.6,421.08 577.6,420.75C578.6,420.41 579.6,420.08 580.6,419.76C581.6,419.44 582.6,419.12 583.6,418.81C584.6,418.5 585.6,418.19 586.6,417.89C587.6,417.59 588.6,417.3 589.6,417.01C590.6,416.72 591.6,416.44 592.6,416.16C593.6,415.88 594.6,415.61 595.6,415.34C596.6,415.08 597.6,414.82 598.6,414.56C599.6,414.31 600.6,414.06 601.6,413.82C602.6,413.57 603.6,413.33 604.6,413.1C605.6,412.87 606.6,412.64 607.6,412.42C608.6,412.2 609.6,411.98 610.6,411.77C611.6,411.56 612.6,411.35 613.6,411.15C614.6,410.95 615.6,410.75 616.6,410.56C617.6,410.37 618.6,410.19 619.6,410.01C620.6,409.83 621.6,409.65 622.6,409.48C623.6,409.31 624.6,409.14 625.6,408.98C626.6,408.82 627.6,408.67 628.6,408.52C629.6,408.37 630.6,408.22 631.6,408.08C632.6,407.94 633.6,407.8 634.6,407.67C635.6,407.54 636.6,407.41 637.6,407.29C638.6,407.17 639.6,407.05 640.6,406.94C641.6,406.82 642.6,406.72 643.6,406.61C644.6,406.51 645.6,406.41 646.6,406.31C647.6,406.22 648.6,406.13 649.6,406.04C650.6,405.96 651.6,405.87 652.6,405.8C653.6,405.72 654.6,405.65 655.6,405.58C656.6,405.51 657.6,405.44 658.6,405.38C659.6,405.32 660.6,405.27 661.6,405.22C662.6,405.16 663.6,405.12 664.6,405.07C665.6,405.03 666.6,404.99 667.6,404.95C668.6,404.92 669.65,404.91 670.6,404.85C671.55,404.8 672.85,404.64 673.3,404.6" fill="none" stroke="#ff0000" stroke-width="2.9" stroke-dasharray="3 3.3" stroke-linejoin="round" clip-path="url(#cb)"/>
<path d="M74.1,635.1C74.6,635.04 76.1,634.83 77.1,634.76C78.1,634.69 79.1,634.72 80.1,634.7C81.1,634.68 82.1,634.65 83.1,634.63C84.1,634.6 85.1,634.57 86.1,634.54C87.1,634.51 88.1,634.47 89.1,634.44C90.1,634.4 91.1,634.36 92.1,634.33C93.1,634.29 94.1,634.24 95.1,634.2C96.1,634.16 97.1,634.11 98.1,634.06C99.1,634.01 100.1,633.96 101.1,633.91C102.1,633.86 103.1,633.81 104.1,633.75C105.1,633.69 106.1,633.63 107.1,633.57C108.1,633.51 109.1,633.45 110.1,633.39C111.1,633.32 112.1,633.26 113.1,633.19C114.1,633.12 115.1,633.05 116.1,632.98C117.1,632.9 118.1,632.83 119.1,632.75C120.1,632.68 121.1,632.6 122.1,632.52C123.1,632.44 124.1,632.35 125.1,632.27C126.1,632.18 127.1,632.1 128.1,632.01C129.1,631.92 130.1,631.83 131.1,631.74C132.1,631.64 133.1,631.55 134.1,631.45C135.1,631.36 136.1,631.26 137.1,631.16C138.1,631.06 139.1,630.95 140.1,630.85C141.1,630.75 142.1,630.64 143.1,630.53C144.1,630.42 145.1,630.31 146.1,630.2C147.1,630.09 148.1,629.98 149.1,629.86C150.1,629.74 151.1,629.63 152.1,629.51C153.1,629.39 154.1,629.27 155.1,629.14C156.1,629.02 157.1,628.89 158.1,628.77C159.1,628.64 160.1,628.51 161.1,628.38C162.1,628.25 163.1,628.11 164.1,627.98C165.1,627.84 166.1,627.71 167.1,627.57C168.1,627.43 169.1,627.29 170.1,627.15C171.1,627.01 172.1,626.86 173.1,626.72C174.1,626.57 175.1,626.42 176.1,626.27C177.1,626.12 178.1,625.97 179.1,625.82C180.1,625.67 181.1,625.51 182.1,625.35C183.1,625.2 184.1,625.04 185.1,624.88C186.1,624.72 187.1,624.56 188.1,624.39C189.1,624.23 190.1,624.06 191.1,623.89C192.1,623.73 193.1,623.56 194.1,623.39C195.1,623.21 196.1,623.04 197.1,622.87C198.1,622.69 199.1,622.52 200.1,622.34C201.1,622.16 202.1,621.98 203.1,621.8C204.1,621.62 205.1,621.43 206.1,621.25C207.1,621.06 208.1,620.88 209.1,620.69C210.1,620.5 211.1,620.31 212.1,620.12C213.1,619.92 214.1,619.73 215.1,619.53C216.1,619.34 217.1,619.14 218.1,618.94C219.1,618.74 220.1,618.54 221.1,618.34C222.1,618.14 223.1,617.94 224.1,617.73C225.1,617.52 226.1,617.32 227.1,617.11C228.1,616.9 229.1,616.69 230.1,616.48C231.1,616.26 232.1,616.05 233.1,615.83C234.1,615.62 235.1,615.4 236.1,615.18C237.1,614.96 238.1,614.74 239.1,614.52C240.1,614.3 241.1,614.08 242.1,613.85C243.1,613.63 244.1,613.4 245.1,613.17C246.1,612.94 247.1,612.71 248.1,612.48C249.1,612.25 250.1,612.01 251.1,611.78C252.1,611.54 253.1,611.31 254.1,611.07C255.1,610.83 256.1,610.59 257.1,610.35C258.1,610.11 259.1,609.87 260.1,609.62C261.1,609.38 262.1,609.13 263.1,608.88C264.1,608.64 265.1,608.39 266.1,608.14C267.1,607.89 268.1,607.64 269.1,607.38C270.1,607.13 271.1,606.87 272.1,606.62C273.1,606.36 274.1,606.11 275.1,605.85C276.1,605.59 277.1,605.33 278.1,605.07C279.1,604.81 280.1,604.55 281.1,604.28C282.1,604.02 283.1,603.76 284.1,603.49C285.1,603.23 286.1,602.96 287.1,602.69C288.1,602.43 289.1,602.16 290.1,601.89C291.1,601.62 292.1,601.35 293.1,601.08C294.1,600.81 295.1,600.54 296.1,600.27C297.1,600 298.1,599.73 299.1,599.46C300.1,599.18 301.1,598.91 302.1,598.64C303.1,598.36 304.1,598.09 305.1,597.82C306.1,597.54 307.1,597.27 308.1,596.99C309.1,596.72 310.1,596.44 311.1,596.17C312.1,595.89 313.1,595.62 314.1,595.34C315.1,595.07 316.1,594.79 317.1,594.51C318.1,594.24 319.1,593.96 320.1,593.68C321.1,593.41 322.1,593.13 323.1,592.86C324.1,592.58 325.1,592.3 326.1,592.03C327.1,591.75 328.1,591.47 329.1,591.2C330.1,590.92 331.1,590.64 332.1,590.37C333.1,590.09 334.1,589.82 335.1,589.54C336.1,589.27 337.1,588.99 338.1,588.72C339.1,588.44 340.1,588.17 341.1,587.9C342.1,587.62 343.1,587.35 344.1,587.08C345.1,586.8 346.1,586.53 347.1,586.26C348.1,585.99 349.1,585.72 350.1,585.45C351.1,585.18 352.1,584.91 353.1,584.64C354.1,584.37 355.1,584.1 356.1,583.84C357.1,583.57 358.1,583.3 359.1,583.04C360.1,582.77 361.1,582.51 362.1,582.25C363.1,581.98 364.17,581.77 365.1,581.46C366.03,581.15 366.63,581.04 367.7,580.4C368.77,579.76 370.2,578.7 371.5,577.6C372.8,576.5 373.47,575.87 375.5,573.8C377.53,571.73 381.83,567.13 383.7,565.2C385.57,563.27 385.7,563.29 386.7,562.25C387.7,561.2 388.7,560.03 389.7,558.91C390.7,557.79 391.7,556.65 392.7,555.51C393.7,554.37 394.7,553.22 395.7,552.07C396.7,550.91 397.7,549.75 398.7,548.59C399.7,547.42 400.7,546.25 401.7,545.08C402.7,543.91 403.7,542.74 404.7,541.56C405.7,540.39 406.7,539.22 407.7,538.05C408.7,536.87 409.7,535.7 410.7,534.53C411.7,533.37 412.7,532.2 413.7,531.04C414.7,529.88 415.7,528.72 416.7,527.58C417.7,526.43 418.7,525.28 419.7,524.15C420.7,523.01 421.7,521.88 422.7,520.76C423.7,519.64 424.7,518.53 425.7,517.43C426.7,516.33 427.7,515.24 428.7,514.17C429.7,513.09 430.7,512.02 431.7,510.97C432.7,509.92 433.7,508.89 434.7,507.87C435.7,506.84 436.7,505.84 437.7,504.84C438.7,503.85 439.7,502.87 440.7,501.91C441.7,500.94 442.7,499.99 443.7,499.05C444.7,498.11 445.7,497.19 446.7,496.27C447.7,495.36 448.7,494.46 449.7,493.57C450.7,492.68 451.7,491.8 452.7,490.94C453.7,490.07 454.7,489.22 455.7,488.37C456.7,487.53 457.7,486.69 458.7,485.87C459.7,485.04 460.7,484.23 461.7,483.42C462.7,482.62 463.7,481.82 464.7,481.04C465.7,480.25 466.7,479.47 467.7,478.7C468.7,477.93 469.7,477.17 470.7,476.41C471.7,475.66 472.7,474.91 473.7,474.17C474.7,473.43 475.7,472.7 476.7,471.97C477.7,471.24 478.7,470.52 479.7,469.81C480.7,469.09 481.7,468.38 482.7,467.68C483.7,466.98 484.7,466.28 485.7,465.59C486.7,464.9 487.7,464.22 488.7,463.54C489.7,462.86 490.7,462.19 491.7,461.53C492.7,460.86 493.7,460.2 494.7,459.55C495.7,458.9 496.7,458.25 497.7,457.61C498.7,456.97 499.7,456.33 500.7,455.7C501.7,455.07 502.7,454.45 503.7,453.83C504.7,453.22 505.7,452.6 506.7,452C507.7,451.39 508.7,450.8 509.7,450.2C510.7,449.61 511.7,449.02 512.7,448.44C513.7,447.86 514.7,447.29 515.7,446.72C516.7,446.15 517.7,445.59 518.7,445.03C519.7,444.47 520.7,443.92 521.7,443.38C522.7,442.83 523.7,442.29 524.7,441.76C525.7,441.23 526.7,440.7 527.7,440.18C528.7,439.66 529.7,439.14 530.7,438.64C531.7,438.13 532.7,437.62 533.7,437.13C534.7,436.63 535.7,436.14 536.7,435.65C537.7,435.17 538.7,434.69 539.7,434.22C540.7,433.74 541.7,433.27 542.7,432.81C543.7,432.35 544.7,431.9 545.7,431.45C546.7,431 547.7,430.55 548.7,430.11C549.7,429.68 550.7,429.24 551.7,428.82C552.7,428.39 553.7,427.97 554.7,427.55C555.7,427.14 556.7,426.73 557.7,426.33C558.7,425.93 559.7,425.53 560.7,425.14C561.7,424.75 562.7,424.36 563.7,423.98C564.7,423.6 565.7,423.23 566.7,422.86C567.7,422.49 568.7,422.13 569.7,421.77C570.7,421.42 571.7,421.06 572.7,420.72C573.7,420.37 574.7,420.04 575.7,419.7C576.7,419.37 577.7,419.04 578.7,418.72C579.7,418.4 580.7,418.08 581.7,417.77C582.7,417.46 583.7,417.16 584.7,416.86C585.7,416.56 586.7,416.27 587.7,415.98C588.7,415.69 589.7,415.41 590.7,415.13C591.7,414.86 592.7,414.59 593.7,414.32C594.7,414.06 595.7,413.8 596.7,413.54C597.7,413.29 598.7,413.04 599.7,412.8C600.7,412.56 601.7,412.32 602.7,412.09C603.7,411.86 604.7,411.64 605.7,411.42C606.7,411.2 607.7,410.98 608.7,410.78C609.7,410.57 610.7,410.37 611.7,410.17C612.7,409.97 613.7,409.78 614.7,409.6C615.7,409.41 616.7,409.23 617.7,409.06C618.7,408.88 619.7,408.71 620.7,408.55C621.7,408.39 622.7,408.23 623.7,408.08C624.7,407.92 625.7,407.78 626.7,407.64C627.7,407.5 628.7,407.36 629.7,407.23C630.7,407.1 631.7,406.98 632.7,406.86C633.7,406.74 634.7,406.63 635.7,406.52C636.7,406.41 637.7,406.31 638.7,406.21C639.7,406.12 640.7,406.02 641.7,405.94C642.7,405.85 643.7,405.77 644.7,405.7C645.7,405.62 646.7,405.55 647.7,405.49C648.7,405.43 649.7,405.37 650.7,405.32C651.7,405.26 652.7,405.22 653.7,405.17C654.7,405.13 655.7,405.1 656.7,405.06C657.7,405.03 658.7,405.01 659.7,404.99C660.7,404.97 661.7,404.95 662.7,404.94C663.7,404.93 664.7,404.93 665.7,404.93C666.7,404.93 667.7,404.94 668.7,404.95C669.7,404.97 670.93,405.07 671.7,405.01C672.47,404.95 673.03,404.67 673.3,404.6" fill="none" stroke="#ff0000" stroke-width="2.9" stroke-dasharray="5.8 4.7" stroke-linejoin="round" clip-path="url(#cb)"/>
<path d="M74,1003.4C74.5,1003.41 76,1003.43 77,1003.44C78,1003.45 79,1003.43 80,1003.43C81,1003.43 82,1003.44 83,1003.44C84,1003.45 85,1003.45 86,1003.46C87,1003.47 88,1003.48 89,1003.5C90,1003.51 91,1003.53 92,1003.54C93,1003.56 94,1003.58 95,1003.6C96,1003.62 97,1003.65 98,1003.67C99,1003.7 100,1003.73 101,1003.76C102,1003.78 103,1003.82 104,1003.85C105,1003.88 106,1003.92 107,1003.96C108,1003.99 109,1004.03 110,1004.07C111,1004.11 112,1004.15 113,1004.2C114,1004.24 115,1004.29 116,1004.34C117,1004.38 118,1004.43 119,1004.48C120,1004.53 121,1004.58 122,1004.64C123,1004.69 124,1004.75 125,1004.8C126,1004.86 127,1004.92 128,1004.98C129,1005.04 130,1005.1 131,1005.16C132,1005.22 133,1005.29 134,1005.35C135,1005.42 136,1005.49 137,1005.55C138,1005.62 139,1005.69 140,1005.76C141,1005.83 142,1005.9 143,1005.97C144,1006.05 145,1006.12 146,1006.2C147,1006.27 148,1006.35 149,1006.42C150,1006.5 151,1006.58 152,1006.66C153,1006.74 154,1006.82 155,1006.9C156,1006.98 157,1007.06 158,1007.15C159,1007.23 160,1007.31 161,1007.4C162,1007.48 163,1007.57 164,1007.66C165,1007.74 166,1007.83 167,1007.92C168,1008.01 169,1008.09 170,1008.18C171,1008.27 172,1008.36 173,1008.45C174,1008.55 175,1008.64 176,1008.73C177,1008.82 178,1008.91 179,1009.01C180,1009.1 181,1009.19 182,1009.29C183,1009.38 184,1009.48 185,1009.57C186,1009.67 187,1009.76 188,1009.86C189,1009.96 190,1010.05 191,1010.15C192,1010.24 193,1010.34 194,1010.44C195,1010.54 196,1010.63 197,1010.73C198,1010.83 199,1010.93 200,1011.03C201,1011.12 202,1011.22 203,1011.32C204,1011.42 205,1011.52 206,1011.62C207,1011.71 208,1011.81 209,1011.91C210,1012.01 211,1012.11 212,1012.21C213,1012.31 214,1012.41 215,1012.5C216,1012.6 217,1012.7 218,1012.8C219,1012.9 220,1013 221,1013.09C222,1013.19 223,1013.29 224,1013.39C225,1013.48 226,1013.58 227,1013.68C228,1013.78 229,1013.87 230,1013.97C231,1014.06 232,1014.16 233,1014.26C234,1014.35 235,1014.45 236,1014.54C237,1014.64 238,1014.73 239,1014.82C240,1014.92 241,1015.01 242,1015.1C243,1015.19 244,1015.29 245,1015.38C246,1015.47 247,1015.56 248,1015.65C249,1015.74 250,1015.83 251,1015.92C252,1016.01 253,1016.09 254,1016.18C255,1016.27 256,1016.35 257,1016.44C258,1016.53 259,1016.61 260,1016.69C261,1016.78 262,1016.86 263,1016.94C264,1017.02 265,1017.11 266,1017.19C267,1017.27 268,1017.34 269,1017.42C270,1017.5 271,1017.58 272,1017.65C273,1017.73 274,1017.8 275,1017.88C276,1017.95 277,1018.02 278,1018.09C279,1018.17 280,1018.24 281,1018.3C282,1018.37 283,1018.44 284,1018.51C285,1018.57 286,1018.64 287,1018.7C288,1018.76 289,1018.83 290,1018.89C291,1018.95 292,1019.01 293,1019.06C294,1019.12 295,1019.18 296,1019.23C297,1019.29 298,1019.34 299,1019.39C300,1019.44 301,1019.49 302,1019.54C303,1019.59 304,1019.64 305,1019.68C306,1019.73 307,1019.77 308,1019.81C309,1019.86 310,1019.9 311,1019.93C312,1019.97 313,1020.01 314,1020.04C315,1020.08 316,1020.11 317,1020.14C318,1020.17 319,1020.2 320,1020.23C321,1020.26 322,1020.28 323,1020.3C324,1020.33 325,1020.35 326,1020.37C327,1020.39 328,1020.4 329,1020.42C330,1020.43 331,1020.45 332,1020.46C333,1020.47 334,1020.48 335,1020.48C336,1020.49 337,1020.49 338,1020.49C339,1020.5 340,1020.5 341,1020.49C342,1020.49 343,1020.49 344,1020.48C345,1020.47 346,1020.46 347,1020.45C348,1020.44 349.48,1020.41 350,1020.4C350.52,1020.4 350.08,1020.4 350.1,1020.4L370.8,1019.7L372,969.7L376.2,807.4C376.7,807.35 378.2,807.2 379.2,807.13C380.2,807.06 381.2,807.04 382.2,807C383.2,806.96 384.2,806.91 385.2,806.87C386.2,806.82 387.2,806.78 388.2,806.73C389.2,806.69 390.2,806.64 391.2,806.6C392.2,806.55 393.2,806.5 394.2,806.46C395.2,806.41 396.2,806.37 397.2,806.32C398.2,806.27 399.2,806.22 400.2,806.18C401.2,806.13 402.2,806.08 403.2,806.03C404.2,805.99 405.2,805.94 406.2,805.89C407.2,805.84 408.2,805.79 409.2,805.74C410.2,805.69 411.2,805.64 412.2,805.6C413.2,805.55 414.2,805.5 415.2,805.45C416.2,805.4 417.2,805.35 418.2,805.3C419.2,805.25 420.2,805.2 421.2,805.15C422.2,805.1 423.2,805.04 424.2,804.99C425.2,804.94 426.2,804.89 427.2,804.84C428.2,804.79 429.2,804.74 430.2,804.69C431.2,804.63 432.2,804.58 433.2,804.53C434.2,804.48 435.2,804.43 436.2,804.38C437.2,804.32 438.2,804.27 439.2,804.22C440.2,804.17 441.2,804.11 442.2,804.06C443.2,804.01 444.2,803.96 445.2,803.9C446.2,803.85 447.2,803.8 448.2,803.75C449.2,803.69 450.2,803.64 451.2,803.59C452.2,803.54 453.2,803.48 454.2,803.43C455.2,803.38 456.2,803.32 457.2,803.27C458.2,803.22 459.2,803.16 460.2,803.11C461.2,803.06 462.2,803.01 463.2,802.95C464.2,802.9 465.2,802.85 466.2,802.79C467.2,802.74 468.2,802.69 469.2,802.63C470.2,802.58 471.2,802.53 472.2,802.48C473.2,802.42 474.2,802.37 475.2,802.32C476.2,802.26 477.2,802.21 478.2,802.16C479.2,802.11 480.2,802.05 481.2,802C482.2,801.95 483.2,801.9 484.2,801.84C485.2,801.79 486.2,801.74 487.2,801.69C488.2,801.64 489.2,801.58 490.2,801.53C491.2,801.48 492.2,801.43 493.2,801.38C494.2,801.32 495.2,801.27 496.2,801.22C497.2,801.17 498.2,801.12 499.2,801.07C500.2,801.02 501.2,800.97 502.2,800.91C503.2,800.86 504.2,800.81 505.2,800.76C506.2,800.71 507.2,800.66 508.2,800.61C509.2,800.56 510.2,800.51 511.2,800.46C512.2,800.41 513.2,800.36 514.2,800.31C515.2,800.27 516.2,800.22 517.2,800.17C518.2,800.12 519.2,800.07 520.2,800.02C521.2,799.97 522.2,799.93 523.2,799.88C524.2,799.83 525.2,799.78 526.2,799.74C527.2,799.69 528.2,799.64 529.2,799.6C530.2,799.55 531.2,799.5 532.2,799.46C533.2,799.41 534.2,799.36 535.2,799.32C536.2,799.27 537.2,799.23 538.2,799.18C539.2,799.14 540.2,799.09 541.2,799.05C542.2,799.01 543.2,798.96 544.2,798.92C545.2,798.88 546.2,798.83 547.2,798.79C548.2,798.75 549.2,798.7 550.2,798.66C551.2,798.62 552.2,798.58 553.2,798.54C554.2,798.5 555.2,798.46 556.2,798.42C557.2,798.37 558.2,798.33 559.2,798.3C560.2,798.26 561.2,798.22 562.2,798.18C563.2,798.14 564.2,798.1 565.2,798.06C566.2,798.02 567.2,797.99 568.2,797.95C569.2,797.91 570.2,797.88 571.2,797.84C572.2,797.8 573.2,797.77 574.2,797.73C575.2,797.7 576.2,797.66 577.2,797.63C578.2,797.6 579.2,797.56 580.2,797.53C581.2,797.5 582.2,797.46 583.2,797.43C584.2,797.4 585.2,797.37 586.2,797.34C587.2,797.31 588.2,797.27 589.2,797.24C590.2,797.21 591.2,797.19 592.2,797.16C593.2,797.13 594.2,797.1 595.2,797.07C596.2,797.04 597.2,797.02 598.2,796.99C599.2,796.96 600.2,796.94 601.2,796.91C602.2,796.89 603.2,796.86 604.2,796.84C605.2,796.81 606.2,796.79 607.2,796.77C608.2,796.74 609.2,796.72 610.2,796.7C611.2,796.68 612.2,796.66 613.2,796.64C614.2,796.62 615.2,796.6 616.2,796.58C617.2,796.56 618.2,796.54 619.2,796.52C620.2,796.5 621.2,796.49 622.2,796.47C623.2,796.45 624.2,796.44 625.2,796.42C626.2,796.41 627.2,796.39 628.2,796.38C629.2,796.37 630.2,796.35 631.2,796.34C632.2,796.33 633.2,796.32 634.2,796.31C635.2,796.3 636.2,796.29 637.2,796.28C638.2,796.27 639.2,796.26 640.2,796.25C641.2,796.25 642.2,796.24 643.2,796.23C644.2,796.23 645.2,796.22 646.2,796.22C647.2,796.21 648.2,796.21 649.2,796.2C650.2,796.2 651.2,796.2 652.2,796.2C653.2,796.2 654.2,796.2 655.2,796.2C656.2,796.2 657.2,796.2 658.2,796.2C659.2,796.2 660.2,796.2 661.2,796.21C662.2,796.21 663.2,796.22 664.2,796.22C665.2,796.23 666.2,796.23 667.2,796.24C668.2,796.25 669.2,796.26 670.2,796.27C671.2,796.27 672.68,796.31 673.2,796.29C673.72,796.28 673.28,796.22 673.3,796.2" fill="none" stroke="#0000ff" stroke-width="2.9" stroke-linejoin="miter" stroke-miterlimit="10" clip-path="url(#cc)"/>
<path d="M74,1000.5C74.5,1000.51 76,1000.55 77,1000.56C78,1000.57 79,1000.57 80,1000.58C81,1000.58 82,1000.59 83,1000.6C84,1000.62 85,1000.63 86,1000.64C87,1000.66 88,1000.68 89,1000.7C90,1000.72 91,1000.74 92,1000.77C93,1000.79 94,1000.82 95,1000.85C96,1000.87 97,1000.91 98,1000.94C99,1000.97 100,1001 101,1001.04C102,1001.08 103,1001.12 104,1001.16C105,1001.2 106,1001.24 107,1001.28C108,1001.33 109,1001.37 110,1001.42C111,1001.47 112,1001.52 113,1001.57C114,1001.62 115,1001.67 116,1001.72C117,1001.78 118,1001.83 119,1001.89C120,1001.95 121,1002.01 122,1002.07C123,1002.13 124,1002.19 125,1002.26C126,1002.32 127,1002.38 128,1002.45C129,1002.52 130,1002.59 131,1002.65C132,1002.72 133,1002.79 134,1002.87C135,1002.94 136,1003.01 137,1003.09C138,1003.16 139,1003.24 140,1003.31C141,1003.39 142,1003.47 143,1003.55C144,1003.63 145,1003.71 146,1003.79C147,1003.87 148,1003.96 149,1004.04C150,1004.13 151,1004.21 152,1004.3C153,1004.38 154,1004.47 155,1004.56C156,1004.65 157,1004.74 158,1004.83C159,1004.92 160,1005.01 161,1005.1C162,1005.19 163,1005.28 164,1005.38C165,1005.47 166,1005.56 167,1005.66C168,1005.75 169,1005.85 170,1005.95C171,1006.04 172,1006.14 173,1006.24C174,1006.33 175,1006.43 176,1006.53C177,1006.63 178,1006.73 179,1006.83C180,1006.93 181,1007.03 182,1007.13C183,1007.23 184,1007.33 185,1007.44C186,1007.54 187,1007.64 188,1007.74C189,1007.85 190,1007.95 191,1008.05C192,1008.16 193,1008.26 194,1008.37C195,1008.47 196,1008.57 197,1008.68C198,1008.78 199,1008.89 200,1008.99C201,1009.1 202,1009.2 203,1009.31C204,1009.41 205,1009.52 206,1009.63C207,1009.73 208,1009.84 209,1009.94C210,1010.05 211,1010.15 212,1010.26C213,1010.36 214,1010.47 215,1010.57C216,1010.68 217,1010.79 218,1010.89C219,1011 220,1011.1 221,1011.21C222,1011.31 223,1011.42 224,1011.52C225,1011.62 226,1011.73 227,1011.83C228,1011.94 229,1012.04 230,1012.14C231,1012.25 232,1012.35 233,1012.45C234,1012.55 235,1012.65 236,1012.76C237,1012.86 238,1012.96 239,1013.06C240,1013.16 241,1013.26 242,1013.36C243,1013.46 244,1013.56 245,1013.66C246,1013.75 247,1013.85 248,1013.95C249,1014.04 250,1014.14 251,1014.24C252,1014.33 253,1014.43 254,1014.52C255,1014.61 256,1014.71 257,1014.8C258,1014.89 259,1014.98 260,1015.07C261,1015.17 262,1015.25 263,1015.34C264,1015.43 265,1015.52 266,1015.61C267,1015.69 268,1015.78 269,1015.86C270,1015.95 271,1016.03 272,1016.12C273,1016.2 274,1016.28 275,1016.36C276,1016.44 277,1016.52 278,1016.6C279,1016.68 280,1016.75 281,1016.83C282,1016.9 283,1016.98 284,1017.05C285,1017.12 286,1017.2 287,1017.27C288,1017.34 289,1017.41 290,1017.47C291,1017.54 292,1017.61 293,1017.67C294,1017.74 295,1017.8 296,1017.86C297,1017.92 298,1017.98 299,1018.04C300,1018.1 301,1018.16 302,1018.21C303,1018.27 304,1018.32 305,1018.37C306,1018.43 307,1018.48 308,1018.53C309,1018.57 310,1018.62 311,1018.67C312,1018.71 313,1018.75 314,1018.8C315,1018.84 316,1018.88 317,1018.91C318,1018.95 319,1018.99 320,1019.02C321,1019.06 322,1019.09 323,1019.12C324,1019.15 325,1019.18 326,1019.2C327,1019.23 328,1019.25 329,1019.27C330,1019.3 331,1019.32 332,1019.33C333,1019.35 334,1019.37 335,1019.38C336,1019.39 337,1019.4 338,1019.41C339,1019.42 340,1019.43 341,1019.43C342,1019.44 342.58,1019.44 344,1019.44C345.42,1019.43 347.85,1019.64 349.5,1019.4C351.15,1019.16 353.17,1018.23 353.9,1018C354.48,1016.9 356.13,1014.23 357.4,1011.4C358.67,1008.57 360.33,1003.9 361.5,1001C362.67,998.1 363.43,997.1 364.4,994C365.37,990.9 366.33,986.45 367.3,982.4C368.27,978.35 369.23,974.92 370.2,969.7C371.17,964.48 372.23,956.33 373.1,951.1C373.97,945.87 374.73,942.57 375.4,938.3C376.07,934.03 376.52,929.75 377.1,925.5C377.68,921.25 378.32,917.05 378.9,912.8C379.48,908.55 380.03,904.22 380.6,900C381.17,895.78 381.83,891.55 382.3,887.5C382.77,883.45 382.95,879.8 383.4,875.7C383.85,871.6 384.55,867.18 385,862.9C385.45,858.62 385.57,854.28 386.1,850C386.63,845.72 387.58,841.48 388.2,837.2C388.82,832.92 389.13,828.6 389.8,824.3C390.47,820 391.5,814.55 392.2,811.4C392.9,808.25 393.7,806.4 394,805.4C395.03,805.35 398.67,805.15 400.2,805.08C401.73,805 402.2,804.98 403.2,804.93C404.2,804.89 405.2,804.84 406.2,804.79C407.2,804.74 408.2,804.69 409.2,804.64C410.2,804.59 411.2,804.54 412.2,804.5C413.2,804.45 414.2,804.4 415.2,804.35C416.2,804.3 417.2,804.25 418.2,804.2C419.2,804.15 420.2,804.1 421.2,804.05C422.2,804 423.2,803.94 424.2,803.89C425.2,803.84 426.2,803.79 427.2,803.74C428.2,803.69 429.2,803.64 430.2,803.59C431.2,803.53 432.2,803.48 433.2,803.43C434.2,803.38 435.2,803.33 436.2,803.28C437.2,803.22 438.2,803.17 439.2,803.12C440.2,803.07 441.2,803.01 442.2,802.96C443.2,802.91 444.2,802.86 445.2,802.8C446.2,802.75 447.2,802.7 448.2,802.65C449.2,802.59 450.2,802.54 451.2,802.49C452.2,802.44 453.2,802.38 454.2,802.33C455.2,802.28 456.2,802.22 457.2,802.17C458.2,802.12 459.2,802.06 460.2,802.01C461.2,801.96 462.2,801.91 463.2,801.85C464.2,801.8 465.2,801.75 466.2,801.69C467.2,801.64 468.2,801.59 469.2,801.53C470.2,801.48 471.2,801.43 472.2,801.38C473.2,801.32 474.2,801.27 475.2,801.22C476.2,801.16 477.2,801.11 478.2,801.06C479.2,801.01 480.2,800.95 481.2,800.9C482.2,800.85 483.2,800.8 484.2,800.74C485.2,800.69 486.2,800.64 487.2,800.59C488.2,800.54 489.2,800.48 490.2,800.43C491.2,800.38 492.2,800.33 493.2,800.28C494.2,800.22 495.2,800.17 496.2,800.12C497.2,800.07 498.2,800.02 499.2,799.97C500.2,799.92 501.2,799.87 502.2,799.81C503.2,799.76 504.2,799.71 505.2,799.66C506.2,799.61 507.2,799.56 508.2,799.51C509.2,799.46 510.2,799.41 511.2,799.36C512.2,799.31 513.2,799.26 514.2,799.21C515.2,799.17 516.2,799.12 517.2,799.07C518.2,799.02 519.2,798.97 520.2,798.92C521.2,798.87 522.2,798.83 523.2,798.78C524.2,798.73 525.2,798.68 526.2,798.64C527.2,798.59 528.2,798.54 529.2,798.5C530.2,798.45 531.2,798.4 532.2,798.36C533.2,798.31 534.2,798.26 535.2,798.22C536.2,798.17 537.2,798.13 538.2,798.08C539.2,798.04 540.2,797.99 541.2,797.95C542.2,797.91 543.2,797.86 544.2,797.82C545.2,797.78 546.2,797.73 547.2,797.69C548.2,797.65 549.2,797.6 550.2,797.56C551.2,797.52 552.2,797.48 553.2,797.44C554.2,797.4 555.2,797.36 556.2,797.32C557.2,797.27 558.2,797.23 559.2,797.2C560.2,797.16 561.2,797.12 562.2,797.08C563.2,797.04 564.2,797 565.2,796.96C566.2,796.92 567.2,796.89 568.2,796.85C569.2,796.81 570.2,796.78 571.2,796.74C572.2,796.7 573.2,796.67 574.2,796.63C575.2,796.6 576.2,796.56 577.2,796.53C578.2,796.5 579.2,796.46 580.2,796.43C581.2,796.4 582.2,796.36 583.2,796.33C584.2,796.3 585.2,796.27 586.2,796.24C587.2,796.21 588.2,796.17 589.2,796.14C590.2,796.11 591.2,796.09 592.2,796.06C593.2,796.03 594.2,796 595.2,795.97C596.2,795.94 597.2,795.92 598.2,795.89C599.2,795.86 600.2,795.84 601.2,795.81C602.2,795.79 603.2,795.76 604.2,795.74C605.2,795.71 606.2,795.69 607.2,795.67C608.2,795.64 609.2,795.62 610.2,795.6C611.2,795.58 612.2,795.56 613.2,795.54C614.2,795.52 615.2,795.5 616.2,795.48C617.2,795.46 618.2,795.44 619.2,795.42C620.2,795.4 621.2,795.39 622.2,795.37C623.2,795.35 624.2,795.34 625.2,795.32C626.2,795.31 627.2,795.29 628.2,795.28C629.2,795.27 630.2,795.25 631.2,795.24C632.2,795.23 633.2,795.22 634.2,795.21C635.2,795.2 636.2,795.19 637.2,795.18C638.2,795.17 639.2,795.16 640.2,795.15C641.2,795.15 642.2,795.14 643.2,795.13C644.2,795.13 645.2,795.12 646.2,795.12C647.2,795.11 648.2,795.11 649.2,795.1C650.2,795.1 651.2,795.1 652.2,795.1C653.2,795.1 654.2,795.1 655.2,795.1C656.2,795.1 657.2,795.1 658.2,795.1C659.2,795.1 660.2,795.1 661.2,795.11C662.2,795.11 663.2,795.12 664.2,795.12C665.2,795.13 666.2,795.13 667.2,795.14C668.2,795.15 669.2,795.16 670.2,795.17C671.2,795.17 672.68,795.21 673.2,795.19C673.72,795.18 673.28,795.12 673.3,795.1" fill="none" stroke="#ff0000" stroke-width="2.9" stroke-dasharray="3 3.3" stroke-linejoin="round" clip-path="url(#cc)"/>
<path d="M74,1003.2C74.5,1003.21 76,1003.23 77,1003.24C78,1003.24 79,1003.23 80,1003.23C81,1003.22 82,1003.23 83,1003.23C84,1003.23 85,1003.24 86,1003.24C87,1003.25 88,1003.26 89,1003.27C90,1003.29 91,1003.3 92,1003.32C93,1003.33 94,1003.35 95,1003.37C96,1003.39 97,1003.41 98,1003.44C99,1003.46 100,1003.49 101,1003.52C102,1003.54 103,1003.57 104,1003.61C105,1003.64 106,1003.67 107,1003.71C108,1003.74 109,1003.78 110,1003.82C111,1003.86 112,1003.9 113,1003.94C114,1003.98 115,1004.03 116,1004.07C117,1004.12 118,1004.17 119,1004.22C120,1004.27 121,1004.32 122,1004.37C123,1004.42 124,1004.48 125,1004.53C126,1004.59 127,1004.64 128,1004.7C129,1004.76 130,1004.82 131,1004.88C132,1004.94 133,1005 134,1005.07C135,1005.13 136,1005.2 137,1005.26C138,1005.33 139,1005.4 140,1005.46C141,1005.53 142,1005.6 143,1005.67C144,1005.75 145,1005.82 146,1005.89C147,1005.97 148,1006.04 149,1006.12C150,1006.19 151,1006.27 152,1006.35C153,1006.42 154,1006.5 155,1006.58C156,1006.66 157,1006.74 158,1006.83C159,1006.91 160,1006.99 161,1007.07C162,1007.16 163,1007.24 164,1007.33C165,1007.41 166,1007.5 167,1007.58C168,1007.67 169,1007.76 170,1007.85C171,1007.93 172,1008.02 173,1008.11C174,1008.2 175,1008.29 176,1008.38C177,1008.47 178,1008.56 179,1008.66C180,1008.75 181,1008.84 182,1008.93C183,1009.02 184,1009.12 185,1009.21C186,1009.31 187,1009.4 188,1009.49C189,1009.59 190,1009.68 191,1009.78C192,1009.87 193,1009.97 194,1010.07C195,1010.16 196,1010.26 197,1010.35C198,1010.45 199,1010.55 200,1010.64C201,1010.74 202,1010.84 203,1010.93C204,1011.03 205,1011.13 206,1011.23C207,1011.32 208,1011.42 209,1011.52C210,1011.61 211,1011.71 212,1011.81C213,1011.91 214,1012 215,1012.1C216,1012.2 217,1012.29 218,1012.39C219,1012.49 220,1012.58 221,1012.68C222,1012.78 223,1012.87 224,1012.97C225,1013.07 226,1013.16 227,1013.26C228,1013.35 229,1013.45 230,1013.54C231,1013.64 232,1013.73 233,1013.83C234,1013.92 235,1014.01 236,1014.11C237,1014.2 238,1014.29 239,1014.38C240,1014.48 241,1014.57 242,1014.66C243,1014.75 244,1014.84 245,1014.93C246,1015.02 247,1015.11 248,1015.2C249,1015.29 250,1015.37 251,1015.46C252,1015.55 253,1015.63 254,1015.72C255,1015.81 256,1015.89 257,1015.98C258,1016.06 259,1016.14 260,1016.22C261,1016.31 262,1016.39 263,1016.47C264,1016.55 265,1016.63 266,1016.71C267,1016.79 268,1016.86 269,1016.94C270,1017.02 271,1017.09 272,1017.17C273,1017.24 274,1017.31 275,1017.39C276,1017.46 277,1017.53 278,1017.6C279,1017.67 280,1017.74 281,1017.8C282,1017.87 283,1017.94 284,1018C285,1018.07 286,1018.13 287,1018.19C288,1018.25 289,1018.31 290,1018.37C291,1018.43 292,1018.49 293,1018.55C294,1018.6 295,1018.66 296,1018.71C297,1018.76 298,1018.82 299,1018.87C300,1018.92 301,1018.97 302,1019.01C303,1019.06 304,1019.11 305,1019.15C306,1019.19 307,1019.23 308,1019.28C309,1019.32 310,1019.35 311,1019.39C312,1019.43 313,1019.46 314,1019.5C315,1019.53 316,1019.56 317,1019.59C318,1019.62 319,1019.65 320,1019.67C321,1019.7 322,1019.72 323,1019.74C324,1019.77 325,1019.78 326,1019.8C327,1019.82 328,1019.84 329,1019.85C330,1019.86 331,1019.87 332,1019.88C333,1019.89 334,1019.9 335,1019.9C336,1019.91 337,1019.91 338,1019.91C339,1019.91 340,1019.91 341,1019.91C342,1019.9 342.58,1019.9 344,1019.89C345.42,1019.87 348.23,1019.91 349.5,1019.8C350.77,1019.69 351.25,1019.3 351.6,1019.2C352.18,1017.9 353.83,1014.82 355.1,1011.4C356.37,1007.98 357.95,1003.92 359.2,998.7C360.45,993.48 361.55,986.88 362.6,980.1C363.65,973.32 364.53,964 365.5,958C366.47,952 367.52,949.12 368.4,944.1C369.28,939.08 370.02,932.73 370.8,927.9C371.58,923.07 372.43,919.17 373.1,915.1C373.77,911.03 374.07,908.63 374.8,903.5C375.53,898.37 376.78,889.28 377.5,884.3C378.22,879.32 378.57,877.17 379.1,873.6C379.63,870.03 380.17,866.3 380.7,862.9C381.23,859.5 381.58,856.6 382.3,853.2C383.02,849.8 384.18,846.07 385,842.5C385.82,838.93 386.48,835.18 387.2,831.8C387.92,828.42 388.5,825.6 389.3,822.2C390.1,818.8 391.13,814.07 392,811.4C392.87,808.73 394.08,807.07 394.5,806.2C395.45,806.11 398.75,805.79 400.2,805.68C401.65,805.57 402.2,805.58 403.2,805.53C404.2,805.49 405.2,805.44 406.2,805.39C407.2,805.34 408.2,805.29 409.2,805.24C410.2,805.19 411.2,805.14 412.2,805.1C413.2,805.05 414.2,805 415.2,804.95C416.2,804.9 417.2,804.85 418.2,804.8C419.2,804.75 420.2,804.7 421.2,804.65C422.2,804.6 423.2,804.54 424.2,804.49C425.2,804.44 426.2,804.39 427.2,804.34C428.2,804.29 429.2,804.24 430.2,804.19C431.2,804.13 432.2,804.08 433.2,804.03C434.2,803.98 435.2,803.93 436.2,803.88C437.2,803.82 438.2,803.77 439.2,803.72C440.2,803.67 441.2,803.61 442.2,803.56C443.2,803.51 444.2,803.46 445.2,803.4C446.2,803.35 447.2,803.3 448.2,803.25C449.2,803.19 450.2,803.14 451.2,803.09C452.2,803.04 453.2,802.98 454.2,802.93C455.2,802.88 456.2,802.82 457.2,802.77C458.2,802.72 459.2,802.66 460.2,802.61C461.2,802.56 462.2,802.51 463.2,802.45C464.2,802.4 465.2,802.35 466.2,802.29C467.2,802.24 468.2,802.19 469.2,802.13C470.2,802.08 471.2,802.03 472.2,801.98C473.2,801.92 474.2,801.87 475.2,801.82C476.2,801.76 477.2,801.71 478.2,801.66C479.2,801.61 480.2,801.55 481.2,801.5C482.2,801.45 483.2,801.4 484.2,801.34C485.2,801.29 486.2,801.24 487.2,801.19C488.2,801.14 489.2,801.08 490.2,801.03C491.2,800.98 492.2,800.93 493.2,800.88C494.2,800.82 495.2,800.77 496.2,800.72C497.2,800.67 498.2,800.62 499.2,800.57C500.2,800.52 501.2,800.47 502.2,800.41C503.2,800.36 504.2,800.31 505.2,800.26C506.2,800.21 507.2,800.16 508.2,800.11C509.2,800.06 510.2,800.01 511.2,799.96C512.2,799.91 513.2,799.86 514.2,799.81C515.2,799.77 516.2,799.72 517.2,799.67C518.2,799.62 519.2,799.57 520.2,799.52C521.2,799.47 522.2,799.43 523.2,799.38C524.2,799.33 525.2,799.28 526.2,799.24C527.2,799.19 528.2,799.14 529.2,799.1C530.2,799.05 531.2,799 532.2,798.96C533.2,798.91 534.2,798.86 535.2,798.82C536.2,798.77 537.2,798.73 538.2,798.68C539.2,798.64 540.2,798.59 541.2,798.55C542.2,798.51 543.2,798.46 544.2,798.42C545.2,798.38 546.2,798.33 547.2,798.29C548.2,798.25 549.2,798.2 550.2,798.16C551.2,798.12 552.2,798.08 553.2,798.04C554.2,798 555.2,797.96 556.2,797.92C557.2,797.87 558.2,797.83 559.2,797.8C560.2,797.76 561.2,797.72 562.2,797.68C563.2,797.64 564.2,797.6 565.2,797.56C566.2,797.52 567.2,797.49 568.2,797.45C569.2,797.41 570.2,797.38 571.2,797.34C572.2,797.3 573.2,797.27 574.2,797.23C575.2,797.2 576.2,797.16 577.2,797.13C578.2,797.1 579.2,797.06 580.2,797.03C581.2,797 582.2,796.96 583.2,796.93C584.2,796.9 585.2,796.87 586.2,796.84C587.2,796.81 588.2,796.77 589.2,796.74C590.2,796.71 591.2,796.69 592.2,796.66C593.2,796.63 594.2,796.6 595.2,796.57C596.2,796.54 597.2,796.52 598.2,796.49C599.2,796.46 600.2,796.44 601.2,796.41C602.2,796.39 603.2,796.36 604.2,796.34C605.2,796.31 606.2,796.29 607.2,796.27C608.2,796.24 609.2,796.22 610.2,796.2C611.2,796.18 612.2,796.16 613.2,796.14C614.2,796.12 615.2,796.1 616.2,796.08C617.2,796.06 618.2,796.04 619.2,796.02C620.2,796 621.2,795.99 622.2,795.97C623.2,795.95 624.2,795.94 625.2,795.92C626.2,795.91 627.2,795.89 628.2,795.88C629.2,795.87 630.2,795.85 631.2,795.84C632.2,795.83 633.2,795.82 634.2,795.81C635.2,795.8 636.2,795.79 637.2,795.78C638.2,795.77 639.2,795.76 640.2,795.75C641.2,795.75 642.2,795.74 643.2,795.73C644.2,795.73 645.2,795.72 646.2,795.72C647.2,795.71 648.2,795.71 649.2,795.7C650.2,795.7 651.2,795.7 652.2,795.7C653.2,795.7 654.2,795.7 655.2,795.7C656.2,795.7 657.2,795.7 658.2,795.7C659.2,795.7 660.2,795.7 661.2,795.71C662.2,795.71 663.2,795.72 664.2,795.72C665.2,795.73 666.2,795.73 667.2,795.74C668.2,795.75 669.2,795.76 670.2,795.77C671.2,795.77 672.68,795.81 673.2,795.79C673.72,795.78 673.28,795.72 673.3,795.7" fill="none" stroke="#ff0000" stroke-width="2.9" stroke-dasharray="5.8 4.7" stroke-linejoin="round" clip-path="url(#cc)"/>
<path d="M67.75,276.2V272.4M67.75,24.3V28.1M153.61,276.2V272.4M153.61,24.3V28.1M239.48,276.2V272.4M239.48,24.3V28.1M325.34,276.2V272.4M325.34,24.3V28.1M411.21,276.2V272.4M411.21,24.3V28.1M497.07,276.2V272.4M497.07,24.3V28.1M582.93,276.2V272.4M582.93,24.3V28.1M668.8,276.2V272.4M668.8,24.3V28.1M67.75,244.7H71.55M673.3,244.7H669.5M67.75,181.7H71.55M673.3,181.7H669.5M67.75,118.7H71.55M673.3,118.7H669.5M67.75,55.7H71.55M673.3,55.7H669.5" stroke="#262626" stroke-width="1.3" fill="none"/>
<rect x="67.75" y="24.3" width="605.55" height="251.9" fill="none" stroke="#262626" stroke-width="1.25"/>
<path d="M67.75,654.3V650.5M67.75,402.4V406.2M128.31,654.3V650.5M128.31,402.4V406.2M188.86,654.3V650.5M188.86,402.4V406.2M249.42,654.3V650.5M249.42,402.4V406.2M309.97,654.3V650.5M309.97,402.4V406.2M370.53,654.3V650.5M370.53,402.4V406.2M431.08,654.3V650.5M431.08,402.4V406.2M491.64,654.3V650.5M491.64,402.4V406.2M552.19,654.3V650.5M552.19,402.4V406.2M612.75,654.3V650.5M612.75,402.4V406.2M673.3,654.3V650.5M673.3,402.4V406.2M67.75,654.3H71.55M673.3,654.3H669.5M67.75,570.33H71.55M673.3,570.33H669.5M67.75,486.36H71.55M673.3,486.36H669.5M67.75,402.39H71.55M673.3,402.39H669.5" stroke="#262626" stroke-width="1.3" fill="none"/>
<rect x="67.75" y="402.4" width="605.55" height="251.9" fill="none" stroke="#262626" stroke-width="1.25"/>
<path d="M67.75,1032.4V1028.6M67.75,780.8V784.6M128.31,1032.4V1028.6M128.31,780.8V784.6M188.86,1032.4V1028.6M188.86,780.8V784.6M249.42,1032.4V1028.6M249.42,780.8V784.6M309.97,1032.4V1028.6M309.97,780.8V784.6M370.53,1032.4V1028.6M370.53,780.8V784.6M431.08,1032.4V1028.6M431.08,780.8V784.6M491.64,1032.4V1028.6M491.64,780.8V784.6M552.19,1032.4V1028.6M552.19,780.8V784.6M612.75,1032.4V1028.6M612.75,780.8V784.6M673.3,1032.4V1028.6M673.3,780.8V784.6M67.75,1018.5H71.55M673.3,1018.5H669.5M67.75,962.5H71.55M673.3,962.5H669.5M67.75,906.5H71.55M673.3,906.5H669.5M67.75,850.5H71.55M673.3,850.5H669.5M67.75,794.5H71.55M673.3,794.5H669.5" stroke="#262626" stroke-width="1.3" fill="none"/>
<rect x="67.75" y="780.8" width="605.55" height="251.6" fill="none" stroke="#262626" stroke-width="1.25"/>
<rect x="78.5" y="33.7" width="50.4" height="49.9" fill="#fff" stroke="#333" stroke-width="1.25"/>
<path d="M78.5,83.6L128.9,33.7" stroke="#858585" stroke-width="1.15" stroke-dasharray="5.5 3.2 1 3.4" fill="none"/>
<rect x="78.5" y="415.3" width="50.4" height="49.9" fill="#fff" stroke="#333" stroke-width="1.25"/>
<path d="M128.9,427.6H78.5" stroke="#858585" stroke-width="1.15" stroke-dasharray="5.5 3.2 1 3.4" fill="none"/>
<rect x="78.5" y="792.3" width="50.1" height="50" fill="#fff" stroke="#333" stroke-width="1.25"/>
<path d="M116.1,792.3V842.3" stroke="#858585" stroke-width="1.15" stroke-dasharray="5.5 3.2 1 3.4" fill="none"/>
<rect x="78.2" y="131.9" width="30.6" height="14.8" fill="#cccccc"/>
<text x="115.15" y="143.8" font-size="13.54" textLength="110.67" lengthAdjust="spacingAndGlyphs">Multiphase region</text>
<path d="M78.9,165.8H109" stroke="#0000ff" stroke-width="2.9"/>
<path d="M78.9,187.3H109" stroke="#ff0000" stroke-width="2.9" stroke-dasharray="3 3.3"/>
<path d="M78.9,208.6H109" stroke="#ff0000" stroke-width="2.9" stroke-dasharray="5.8 4.7"/>
<text x="114.09" y="170.6" font-size="12.5" font-style="italic" textLength="6.18" lengthAdjust="spacingAndGlyphs">ε</text>
<text x="120.42" y="164.8" font-size="8.79" textLength="11.14" lengthAdjust="spacingAndGlyphs">SI</text>
<text x="120.95" y="173.9" font-size="10.18" textLength="4.17" lengthAdjust="spacingAndGlyphs">t</text>
<text x="125.95" y="173.9" font-size="10.18" textLength="4.06" lengthAdjust="spacingAndGlyphs">t</text>
<text x="114.09" y="192.1" font-size="12.5" font-style="italic" textLength="6.18" lengthAdjust="spacingAndGlyphs">ε</text>
<text x="121.18" y="186.3" font-size="8.79" textLength="16.28" lengthAdjust="spacingAndGlyphs">VT</text>
<text x="120.95" y="195.4" font-size="10.18" textLength="4.17" lengthAdjust="spacingAndGlyphs">t</text>
<text x="125.95" y="195.4" font-size="10.18" textLength="4.06" lengthAdjust="spacingAndGlyphs">t</text>
<text x="114.09" y="213.4" font-size="12.5" font-style="italic" textLength="6.18" lengthAdjust="spacingAndGlyphs">ε</text>
<text x="120.9" y="207.6" font-size="8.79" textLength="12" lengthAdjust="spacingAndGlyphs">PI</text>
<text x="120.95" y="216.7" font-size="10.18" textLength="4.17" lengthAdjust="spacingAndGlyphs">t</text>
<text x="125.95" y="216.7" font-size="10.18" textLength="4.06" lengthAdjust="spacingAndGlyphs">t</text>
<rect x="78.2" y="509.2" width="30.6" height="14.8" fill="#cccccc"/>
<text x="115" y="521.2" font-size="13.54" textLength="95.2" lengthAdjust="spacingAndGlyphs">Interface region</text>
<path d="M78.9,544.2H109" stroke="#0000ff" stroke-width="2.9"/>
<path d="M78.9,565H109" stroke="#ff0000" stroke-width="2.9" stroke-dasharray="3 3.3"/>
<path d="M78.9,586.9H109" stroke="#ff0000" stroke-width="2.9" stroke-dasharray="5.8 4.7"/>
<text x="114.09" y="549" font-size="12.5" font-style="italic" textLength="6.18" lengthAdjust="spacingAndGlyphs">ε</text>
<text x="120.42" y="543.2" font-size="8.79" textLength="11.14" lengthAdjust="spacingAndGlyphs">SI</text>
<text x="120.44" y="552.4" font-size="9.23" textLength="12.36" lengthAdjust="spacingAndGlyphs">11</text>
<text x="114.09" y="569.8" font-size="12.5" font-style="italic" textLength="6.18" lengthAdjust="spacingAndGlyphs">ε</text>
<text x="121.18" y="564" font-size="8.79" textLength="16.28" lengthAdjust="spacingAndGlyphs">VT</text>
<text x="120.44" y="573.2" font-size="9.23" textLength="12.36" lengthAdjust="spacingAndGlyphs">11</text>
<text x="114.09" y="591.7" font-size="12.5" font-style="italic" textLength="6.18" lengthAdjust="spacingAndGlyphs">ε</text>
<text x="120.9" y="585.9" font-size="8.79" textLength="12" lengthAdjust="spacingAndGlyphs">PI</text>
<text x="120.44" y="595.1" font-size="9.23" textLength="12.36" lengthAdjust="spacingAndGlyphs">11</text>
<rect x="78.2" y="889.2" width="30.6" height="14.8" fill="#cccccc"/>
<text x="115" y="900.8" font-size="13.54" textLength="95.2" lengthAdjust="spacingAndGlyphs">Interface region</text>
<path d="M78.9,922.1H109" stroke="#0000ff" stroke-width="2.9"/>
<path d="M78.9,944H109" stroke="#ff0000" stroke-width="2.9" stroke-dasharray="3 3.3"/>
<path d="M78.9,964.8H109" stroke="#ff0000" stroke-width="2.9" stroke-dasharray="5.8 4.7"/>
<text x="114.09" y="926.9" font-size="12.5" font-style="italic" textLength="6.18" lengthAdjust="spacingAndGlyphs">ε</text>
<text x="120.42" y="921.1" font-size="8.79" textLength="11.14" lengthAdjust="spacingAndGlyphs">SI</text>
<text x="120.44" y="930.3" font-size="9.23" textLength="12.36" lengthAdjust="spacingAndGlyphs">11</text>
<text x="114.09" y="948.8" font-size="12.5" font-style="italic" textLength="6.18" lengthAdjust="spacingAndGlyphs">ε</text>
<text x="121.18" y="943" font-size="8.79" textLength="16.28" lengthAdjust="spacingAndGlyphs">VT</text>
<text x="120.44" y="952.2" font-size="9.23" textLength="12.36" lengthAdjust="spacingAndGlyphs">11</text>
<text x="114.09" y="969.6" font-size="12.5" font-style="italic" textLength="6.18" lengthAdjust="spacingAndGlyphs">ε</text>
<text x="120.9" y="963.8" font-size="8.79" textLength="12" lengthAdjust="spacingAndGlyphs">PI</text>
<text x="120.44" y="973" font-size="9.23" textLength="12.36" lengthAdjust="spacingAndGlyphs">11</text>
<text x="63.4" y="295.2" font-size="18.21" textLength="8.69" lengthAdjust="spacingAndGlyphs">0</text>
<text x="144.32" y="295.2" font-size="18.21" textLength="18.59" lengthAdjust="spacingAndGlyphs">20</text>
<text x="230.56" y="295.2" font-size="18.21" textLength="18.19" lengthAdjust="spacingAndGlyphs">40</text>
<text x="316.05" y="295.2" font-size="18.21" textLength="18.59" lengthAdjust="spacingAndGlyphs">60</text>
<text x="401.91" y="295.2" font-size="18.21" textLength="18.59" lengthAdjust="spacingAndGlyphs">80</text>
<text x="482.87" y="295.2" font-size="18.21" textLength="27.48" lengthAdjust="spacingAndGlyphs">100</text>
<text x="568.74" y="295.2" font-size="18.21" textLength="27.48" lengthAdjust="spacingAndGlyphs">120</text>
<text x="654.6" y="295.2" font-size="18.21" textLength="27.48" lengthAdjust="spacingAndGlyphs">140</text>
<text x="30.17" y="250.95" font-size="18.21" textLength="31.75" lengthAdjust="spacingAndGlyphs">2.00</text>
<text x="29.63" y="187.95" font-size="18.21" textLength="32.31" lengthAdjust="spacingAndGlyphs">4.00</text>
<text x="29.56" y="124.95" font-size="18.21" textLength="32.38" lengthAdjust="spacingAndGlyphs">6.00</text>
<text x="29.36" y="61.95" font-size="18.21" textLength="32.59" lengthAdjust="spacingAndGlyphs">8.00</text>
<text x="63.4" y="673.1" font-size="18.21" textLength="8.69" lengthAdjust="spacingAndGlyphs">0</text>
<text x="117.99" y="673.1" font-size="18.21" textLength="19.66" lengthAdjust="spacingAndGlyphs">10</text>
<text x="179.57" y="673.1" font-size="18.21" textLength="18.59" lengthAdjust="spacingAndGlyphs">20</text>
<text x="239.93" y="673.1" font-size="18.21" textLength="18.79" lengthAdjust="spacingAndGlyphs">30</text>
<text x="301.06" y="673.1" font-size="18.21" textLength="18.19" lengthAdjust="spacingAndGlyphs">40</text>
<text x="360.84" y="673.1" font-size="18.21" textLength="19" lengthAdjust="spacingAndGlyphs">50</text>
<text x="421.79" y="673.1" font-size="18.21" textLength="18.59" lengthAdjust="spacingAndGlyphs">60</text>
<text x="481.95" y="673.1" font-size="18.21" textLength="19" lengthAdjust="spacingAndGlyphs">70</text>
<text x="542.9" y="673.1" font-size="18.21" textLength="18.59" lengthAdjust="spacingAndGlyphs">80</text>
<text x="603.64" y="673.1" font-size="18.21" textLength="18.39" lengthAdjust="spacingAndGlyphs">90</text>
<text x="659.1" y="673.1" font-size="18.21" textLength="27.48" lengthAdjust="spacingAndGlyphs">100</text>
<text x="29.11" y="660.55" font-size="18.21" textLength="32.84" lengthAdjust="spacingAndGlyphs">1.00</text>
<text x="30.17" y="576.58" font-size="18.21" textLength="31.75" lengthAdjust="spacingAndGlyphs">2.00</text>
<text x="29.68" y="492.61" font-size="18.21" textLength="32.26" lengthAdjust="spacingAndGlyphs">3.00</text>
<text x="29.63" y="408.64" font-size="18.21" textLength="32.31" lengthAdjust="spacingAndGlyphs">4.00</text>
<text x="63.4" y="1051.5" font-size="18.21" textLength="8.69" lengthAdjust="spacingAndGlyphs">0</text>
<text x="117.99" y="1051.5" font-size="18.21" textLength="19.66" lengthAdjust="spacingAndGlyphs">10</text>
<text x="179.57" y="1051.5" font-size="18.21" textLength="18.59" lengthAdjust="spacingAndGlyphs">20</text>
<text x="239.93" y="1051.5" font-size="18.21" textLength="18.79" lengthAdjust="spacingAndGlyphs">30</text>
<text x="301.06" y="1051.5" font-size="18.21" textLength="18.19" lengthAdjust="spacingAndGlyphs">40</text>
<text x="360.84" y="1051.5" font-size="18.21" textLength="19" lengthAdjust="spacingAndGlyphs">50</text>
<text x="421.79" y="1051.5" font-size="18.21" textLength="18.59" lengthAdjust="spacingAndGlyphs">60</text>
<text x="481.95" y="1051.5" font-size="18.21" textLength="19" lengthAdjust="spacingAndGlyphs">70</text>
<text x="542.9" y="1051.5" font-size="18.21" textLength="18.59" lengthAdjust="spacingAndGlyphs">80</text>
<text x="603.64" y="1051.5" font-size="18.21" textLength="18.39" lengthAdjust="spacingAndGlyphs">90</text>
<text x="659.1" y="1051.5" font-size="18.21" textLength="27.48" lengthAdjust="spacingAndGlyphs">100</text>
<text x="29.36" y="1024.75" font-size="18.21" textLength="32.59" lengthAdjust="spacingAndGlyphs">0.00</text>
<text x="29.11" y="968.75" font-size="18.21" textLength="32.84" lengthAdjust="spacingAndGlyphs">1.00</text>
<text x="30.17" y="912.75" font-size="18.21" textLength="31.75" lengthAdjust="spacingAndGlyphs">2.00</text>
<text x="29.68" y="856.75" font-size="18.21" textLength="32.26" lengthAdjust="spacingAndGlyphs">3.00</text>
<text x="29.63" y="800.75" font-size="18.21" textLength="32.31" lengthAdjust="spacingAndGlyphs">4.00</text>
<text x="71.79" y="17.3" font-size="18.21" textLength="6.38" lengthAdjust="spacingAndGlyphs">·</text>
<text x="76.92" y="16.6" font-size="18.21" textLength="17.59" lengthAdjust="spacingAndGlyphs">10</text>
<text x="95.34" y="11" font-size="12" textLength="7.44" lengthAdjust="spacingAndGlyphs">−</text>
<text x="103.02" y="9.7" font-size="12.15" textLength="7.2" lengthAdjust="spacingAndGlyphs">2</text>
<text x="71.79" y="395.4" font-size="18.21" textLength="6.38" lengthAdjust="spacingAndGlyphs">·</text>
<text x="76.92" y="394.7" font-size="18.21" textLength="17.59" lengthAdjust="spacingAndGlyphs">10</text>
<text x="95.34" y="389.1" font-size="12" textLength="7.44" lengthAdjust="spacingAndGlyphs">−</text>
<text x="103.02" y="387.8" font-size="12.15" textLength="7.2" lengthAdjust="spacingAndGlyphs">2</text>
<text x="71.79" y="773.8" font-size="18.21" textLength="6.38" lengthAdjust="spacingAndGlyphs">·</text>
<text x="76.92" y="773.1" font-size="18.21" textLength="17.59" lengthAdjust="spacingAndGlyphs">10</text>
<text x="95.34" y="767.5" font-size="12" textLength="7.44" lengthAdjust="spacingAndGlyphs">−</text>
<text x="103.02" y="766.2" font-size="12.15" textLength="7.2" lengthAdjust="spacingAndGlyphs">2</text>
<text x="339.88" y="319.4" font-size="17.5" font-style="italic" textLength="10.28" lengthAdjust="spacingAndGlyphs">ξ</text>
<path d="M356.0,306.8L350.4,323.2" stroke="#111" stroke-width="1.1" fill="none"/>
<text x="355.8" y="319.4" font-size="17.5" textLength="24.66" lengthAdjust="spacingAndGlyphs">μm</text>
<path d="M386.4,315.2H398.2" stroke="#111" stroke-width="1.05" fill="none"/><path d="M394.6,312.3C395.4,313.8 397,314.9 399,315.2C397,315.5 395.4,316.6 394.6,318.1" stroke="#111" stroke-width="0.95" fill="none" stroke-linecap="round"/><path d="M399.3,315.2L395.8,313.7L395.8,316.7Z" fill="#111"/>
<text x="340.43" y="698.3" font-size="17.5" font-style="italic" textLength="9.04" lengthAdjust="spacingAndGlyphs">ζ</text>
<path d="M356.0,684.7L350.4,701.7" stroke="#111" stroke-width="1.1" fill="none"/>
<text x="355.8" y="698.3" font-size="17.5" textLength="24.66" lengthAdjust="spacingAndGlyphs">μm</text>
<path d="M386.4,693.2H398.2" stroke="#111" stroke-width="1.05" fill="none"/><path d="M394.6,690.3C395.4,691.8 397,692.9 399,693.2C397,693.5 395.4,694.6 394.6,696.1" stroke="#111" stroke-width="0.95" fill="none" stroke-linecap="round"/><path d="M399.3,693.2L395.8,691.7L395.8,694.7Z" fill="#111"/>
<text x="339.24" y="1076.3" font-size="17.5" font-style="italic" textLength="10.63" lengthAdjust="spacingAndGlyphs">η</text>
<path d="M356.4,1063.3L350.4,1079.8" stroke="#111" stroke-width="1.1" fill="none"/>
<text x="355.8" y="1076.3" font-size="17.5" textLength="24.66" lengthAdjust="spacingAndGlyphs">μm</text>
<path d="M386.4,1071.2H398.2" stroke="#111" stroke-width="1.05" fill="none"/><path d="M394.6,1068.3C395.4,1069.8 397,1070.9 399,1071.2C397,1071.5 395.4,1072.6 394.6,1074.1" stroke="#111" stroke-width="0.95" fill="none" stroke-linecap="round"/><path d="M399.3,1071.2L395.8,1069.7L395.8,1072.7Z" fill="#111"/>
<text x="362.11" y="353" font-size="31.25" font-weight="bold" textLength="14.78" lengthAdjust="spacingAndGlyphs">a</text>
<text x="363.32" y="735.6" font-size="28" font-weight="bold" textLength="15.7" lengthAdjust="spacingAndGlyphs">b</text>
<text x="361.05" y="1112.9" font-size="28.33" font-weight="bold" textLength="14.11" lengthAdjust="spacingAndGlyphs">c</text>
<path d="M8.8,137.7V125.7" stroke="#111" stroke-width="1.05" fill="none"/>
<path d="M5.9,129.3C7.4,128.5 8.5,126.9 8.8,124.9C9.1,126.9 10.2,128.5 11.7,129.3" stroke="#111" stroke-width="0.95" fill="none" stroke-linecap="round"/>
<path d="M8.8,124.6L7.3,128.1L10.3,128.1Z" fill="#111"/>
<path d="M9.5,144.1V148.8" stroke="#111" stroke-width="1.2"/>
<path d="M0.4,149.4L17.2,155.1" stroke="#111" stroke-width="1.05"/>
<text transform="translate(14,0) rotate(-90)" x="-176.49" y="0" font-size="18.54" font-style="italic" textLength="7.77" lengthAdjust="spacingAndGlyphs">ε</text>
<text transform="translate(16.4,0) rotate(-90)" x="-167.97" y="0" font-size="14.74" textLength="4.81" lengthAdjust="spacingAndGlyphs">t</text>
<text transform="translate(16.4,0) rotate(-90)" x="-162.05" y="0" font-size="14.74" textLength="4.06" lengthAdjust="spacingAndGlyphs">t</text>
<path d="M8.8,514.25V502.25" stroke="#111" stroke-width="1.05" fill="none"/>
<path d="M5.9,505.85C7.4,505.05 8.5,503.45 8.8,501.45C9.1,503.45 10.2,505.05 11.7,505.85" stroke="#111" stroke-width="0.95" fill="none" stroke-linecap="round"/>
<path d="M8.8,501.15L7.3,504.65L10.3,504.65Z" fill="#111"/>
<path d="M9.5,520.25V525.45" stroke="#111" stroke-width="1.2"/>
<path d="M0.4,526.45L17.2,531.85" stroke="#111" stroke-width="1.05"/>
<text transform="translate(14,0) rotate(-90)" x="-556.47" y="0" font-size="18.54" font-style="italic" textLength="8.2" lengthAdjust="spacingAndGlyphs">ε</text>
<text transform="translate(16.3,0) rotate(-90)" x="-547.99" y="0" font-size="12.62" textLength="14.39" lengthAdjust="spacingAndGlyphs">11</text>
<path d="M8.8,892.8V880.8" stroke="#111" stroke-width="1.05" fill="none"/>
<path d="M5.9,884.4C7.4,883.6 8.5,882 8.8,880C9.1,882 10.2,883.6 11.7,884.4" stroke="#111" stroke-width="0.95" fill="none" stroke-linecap="round"/>
<path d="M8.8,879.7L7.3,883.2L10.3,883.2Z" fill="#111"/>
<path d="M9.5,898.8V904" stroke="#111" stroke-width="1.2"/>
<path d="M0.4,905L17.2,910.4" stroke="#111" stroke-width="1.05"/>
<text transform="translate(14,0) rotate(-90)" x="-935.02" y="0" font-size="18.54" font-style="italic" textLength="8.2" lengthAdjust="spacingAndGlyphs">ε</text>
<text transform="translate(16.3,0) rotate(-90)" x="-926.54" y="0" font-size="12.62" textLength="14.39" lengthAdjust="spacingAndGlyphs">11</text>
</svg>
</body></html>
